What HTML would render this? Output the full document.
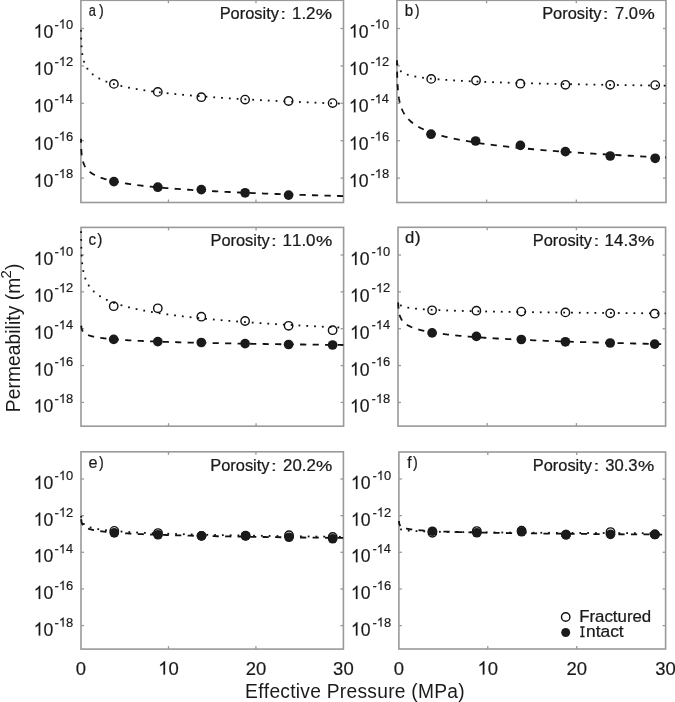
<!DOCTYPE html>
<html><head><meta charset="utf-8"><style>
html,body{margin:0;padding:0;background:#fff;width:675px;height:702px;overflow:hidden}
body{position:relative}
</style></head><body>
<svg width="675" height="702" viewBox="0 0 675 702" style="position:absolute;left:0;top:0;font-kerning:none;filter:grayscale(1) blur(0.35px)" font-family='"Liberation Sans", sans-serif' fill="#1a1a1a">
<rect x="80.9" y="0.3" width="262.6" height="202.2" fill="none" stroke="#999999" stroke-width="1.6"/>
<line x1="80.9" y1="28.50" x2="83.9" y2="28.50" stroke="#999999" stroke-width="1.3"/>
<line x1="343.5" y1="28.50" x2="340.5" y2="28.50" stroke="#999999" stroke-width="1.3"/>
<text transform="translate(33.59,37.50) scale(0.9524,1.041)" font-size="18.5" stroke="#1a1a1a" stroke-width="0.18" > 0</text><path transform="translate(33.59,37.50) scale(0.00860,-0.00903)" d="M763 0L583 0L583 1147C540 1106 483 1065 412 1023C341 981 278 950 222 930L222 1104C323 1151 411 1208 486 1276C561 1343 614 1408 646 1466L763 1466Z" stroke="#1a1a1a" stroke-width="0.18" vector-effect="non-scaling-stroke"/>
<text transform="translate(54.43,28.50) scale(1.0097,1.041)" font-size="12.8" stroke="#1a1a1a" stroke-width="0.18" >- 0</text><path transform="translate(58.73,28.50) scale(0.00631,-0.00625)" d="M763 0L583 0L583 1147C540 1106 483 1065 412 1023C341 981 278 950 222 930L222 1104C323 1151 411 1208 486 1276C561 1343 614 1408 646 1466L763 1466Z" stroke="#1a1a1a" stroke-width="0.18" vector-effect="non-scaling-stroke"/>
<line x1="80.9" y1="65.90" x2="83.9" y2="65.90" stroke="#999999" stroke-width="1.3"/>
<line x1="343.5" y1="65.90" x2="340.5" y2="65.90" stroke="#999999" stroke-width="1.3"/>
<text transform="translate(33.59,74.90) scale(0.9524,1.041)" font-size="18.5" stroke="#1a1a1a" stroke-width="0.18" > 0</text><path transform="translate(33.59,74.90) scale(0.00860,-0.00903)" d="M763 0L583 0L583 1147C540 1106 483 1065 412 1023C341 981 278 950 222 930L222 1104C323 1151 411 1208 486 1276C561 1343 614 1408 646 1466L763 1466Z" stroke="#1a1a1a" stroke-width="0.18" vector-effect="non-scaling-stroke"/>
<text transform="translate(54.42,65.90) scale(1.0181,1.041)" font-size="12.8" stroke="#1a1a1a" stroke-width="0.18" >- 2</text><path transform="translate(58.76,65.90) scale(0.00636,-0.00625)" d="M763 0L583 0L583 1147C540 1106 483 1065 412 1023C341 981 278 950 222 930L222 1104C323 1151 411 1208 486 1276C561 1343 614 1408 646 1466L763 1466Z" stroke="#1a1a1a" stroke-width="0.18" vector-effect="non-scaling-stroke"/>
<line x1="80.9" y1="103.30" x2="83.9" y2="103.30" stroke="#999999" stroke-width="1.3"/>
<line x1="343.5" y1="103.30" x2="340.5" y2="103.30" stroke="#999999" stroke-width="1.3"/>
<text transform="translate(33.59,112.30) scale(0.9524,1.041)" font-size="18.5" stroke="#1a1a1a" stroke-width="0.18" > 0</text><path transform="translate(33.59,112.30) scale(0.00860,-0.00903)" d="M763 0L583 0L583 1147C540 1106 483 1065 412 1023C341 981 278 950 222 930L222 1104C323 1151 411 1208 486 1276C561 1343 614 1408 646 1466L763 1466Z" stroke="#1a1a1a" stroke-width="0.18" vector-effect="non-scaling-stroke"/>
<text transform="translate(54.43,103.30) scale(1.0025,1.041)" font-size="12.8" stroke="#1a1a1a" stroke-width="0.18" >- 4</text><path transform="translate(58.70,103.30) scale(0.00627,-0.00625)" d="M763 0L583 0L583 1147C540 1106 483 1065 412 1023C341 981 278 950 222 930L222 1104C323 1151 411 1208 486 1276C561 1343 614 1408 646 1466L763 1466Z" stroke="#1a1a1a" stroke-width="0.18" vector-effect="non-scaling-stroke"/>
<line x1="80.9" y1="140.70" x2="83.9" y2="140.70" stroke="#999999" stroke-width="1.3"/>
<line x1="343.5" y1="140.70" x2="340.5" y2="140.70" stroke="#999999" stroke-width="1.3"/>
<text transform="translate(33.59,149.70) scale(0.9524,1.041)" font-size="18.5" stroke="#1a1a1a" stroke-width="0.18" > 0</text><path transform="translate(33.59,149.70) scale(0.00860,-0.00903)" d="M763 0L583 0L583 1147C540 1106 483 1065 412 1023C341 981 278 950 222 930L222 1104C323 1151 411 1208 486 1276C561 1343 614 1408 646 1466L763 1466Z" stroke="#1a1a1a" stroke-width="0.18" vector-effect="non-scaling-stroke"/>
<text transform="translate(54.42,140.70) scale(1.0133,1.041)" font-size="12.8" stroke="#1a1a1a" stroke-width="0.18" >- 6</text><path transform="translate(58.74,140.70) scale(0.00633,-0.00625)" d="M763 0L583 0L583 1147C540 1106 483 1065 412 1023C341 981 278 950 222 930L222 1104C323 1151 411 1208 486 1276C561 1343 614 1408 646 1466L763 1466Z" stroke="#1a1a1a" stroke-width="0.18" vector-effect="non-scaling-stroke"/>
<line x1="80.9" y1="178.10" x2="83.9" y2="178.10" stroke="#999999" stroke-width="1.3"/>
<line x1="343.5" y1="178.10" x2="340.5" y2="178.10" stroke="#999999" stroke-width="1.3"/>
<text transform="translate(33.59,187.10) scale(0.9524,1.041)" font-size="18.5" stroke="#1a1a1a" stroke-width="0.18" > 0</text><path transform="translate(33.59,187.10) scale(0.00860,-0.00903)" d="M763 0L583 0L583 1147C540 1106 483 1065 412 1023C341 981 278 950 222 930L222 1104C323 1151 411 1208 486 1276C561 1343 614 1408 646 1466L763 1466Z" stroke="#1a1a1a" stroke-width="0.18" vector-effect="non-scaling-stroke"/>
<text transform="translate(54.42,178.10) scale(1.0129,1.041)" font-size="12.8" stroke="#1a1a1a" stroke-width="0.18" >- 8</text><path transform="translate(58.74,178.10) scale(0.00633,-0.00625)" d="M763 0L583 0L583 1147C540 1106 483 1065 412 1023C341 981 278 950 222 930L222 1104C323 1151 411 1208 486 1276C561 1343 614 1408 646 1466L763 1466Z" stroke="#1a1a1a" stroke-width="0.18" vector-effect="non-scaling-stroke"/>
<line x1="168.43" y1="202.5" x2="168.43" y2="199.5" stroke="#999999" stroke-width="1.3"/>
<line x1="168.43" y1="0.3" x2="168.43" y2="3.3" stroke="#999999" stroke-width="1.3"/>
<line x1="255.97" y1="202.5" x2="255.97" y2="199.5" stroke="#999999" stroke-width="1.3"/>
<line x1="255.97" y1="0.3" x2="255.97" y2="3.3" stroke="#999999" stroke-width="1.3"/>
<clipPath id="clipa"><rect x="79.4" y="0.3" width="264.1" height="202.2"/></clipPath>
<g clip-path="url(#clipa)">
<rect x="80.12" y="29.85" width="1.8" height="1.8" fill="#111"/>
<rect x="80.27" y="37.65" width="1.8" height="1.8" fill="#111"/>
<rect x="80.61" y="45.44" width="1.8" height="1.8" fill="#111"/>
<rect x="81.39" y="53.20" width="1.8" height="1.8" fill="#111"/>
<rect x="83.10" y="60.80" width="1.8" height="1.8" fill="#111"/>
<rect x="86.48" y="67.80" width="1.8" height="1.8" fill="#111"/>
<rect x="91.80" y="73.47" width="1.8" height="1.8" fill="#111"/>
<rect x="98.37" y="77.65" width="1.8" height="1.8" fill="#111"/>
<rect x="105.51" y="80.77" width="1.8" height="1.8" fill="#111"/>
<rect x="112.93" y="83.18" width="1.8" height="1.8" fill="#111"/>
<rect x="120.48" y="85.14" width="1.8" height="1.8" fill="#111"/>
<rect x="128.10" y="86.77" width="1.8" height="1.8" fill="#111"/>
<rect x="135.78" y="88.17" width="1.8" height="1.8" fill="#111"/>
<rect x="143.48" y="89.39" width="1.8" height="1.8" fill="#111"/>
<rect x="151.20" y="90.48" width="1.8" height="1.8" fill="#111"/>
<rect x="158.94" y="91.46" width="1.8" height="1.8" fill="#111"/>
<rect x="166.69" y="92.34" width="1.8" height="1.8" fill="#111"/>
<rect x="174.45" y="93.16" width="1.8" height="1.8" fill="#111"/>
<rect x="182.21" y="93.90" width="1.8" height="1.8" fill="#111"/>
<rect x="189.98" y="94.60" width="1.8" height="1.8" fill="#111"/>
<rect x="197.76" y="95.24" width="1.8" height="1.8" fill="#111"/>
<rect x="205.53" y="95.85" width="1.8" height="1.8" fill="#111"/>
<rect x="213.31" y="96.42" width="1.8" height="1.8" fill="#111"/>
<rect x="221.09" y="96.95" width="1.8" height="1.8" fill="#111"/>
<rect x="228.88" y="97.46" width="1.8" height="1.8" fill="#111"/>
<rect x="236.66" y="97.94" width="1.8" height="1.8" fill="#111"/>
<rect x="244.45" y="98.40" width="1.8" height="1.8" fill="#111"/>
<rect x="252.24" y="98.84" width="1.8" height="1.8" fill="#111"/>
<rect x="260.02" y="99.26" width="1.8" height="1.8" fill="#111"/>
<rect x="267.81" y="99.66" width="1.8" height="1.8" fill="#111"/>
<rect x="275.61" y="100.05" width="1.8" height="1.8" fill="#111"/>
<rect x="283.40" y="100.42" width="1.8" height="1.8" fill="#111"/>
<rect x="291.19" y="100.77" width="1.8" height="1.8" fill="#111"/>
<rect x="298.98" y="101.11" width="1.8" height="1.8" fill="#111"/>
<rect x="306.77" y="101.45" width="1.8" height="1.8" fill="#111"/>
<rect x="314.57" y="101.77" width="1.8" height="1.8" fill="#111"/>
<rect x="322.36" y="102.07" width="1.8" height="1.8" fill="#111"/>
<rect x="330.16" y="102.37" width="1.8" height="1.8" fill="#111"/>
<rect x="337.95" y="102.66" width="1.8" height="1.8" fill="#111"/>
<path d="M80.99,138.80 L80.99,138.96 L80.99,139.11 L80.99,139.26 L81.00,139.41 L81.00,139.57 L81.00,139.72 L81.00,139.87 L81.00,140.03 L81.01,140.18 L81.01,140.33 L81.01,140.48 L81.01,140.64 L81.02,140.79 L81.02,140.94 L81.02,141.10 L81.02,141.25 L81.03,141.40 L81.03,141.56 L81.03,141.71 L81.03,141.86 L81.04,142.01 L81.04,142.17 L81.04,142.32 L81.05,142.47 L81.05,142.63 L81.05,142.78 L81.06,142.93 L81.06,143.08 L81.06,143.24 L81.07,143.39 L81.07,143.54 L81.07,143.70 L81.08,143.85 L81.08,144.00 L81.08,144.16 L81.09,144.31 L81.09,144.46 L81.10,144.61 L81.10,144.77 L81.11,144.92 L81.11,145.07 L81.11,145.23 L81.12,145.38 L81.12,145.53 L81.13,145.68 L81.13,145.84 L81.14,145.99 L81.14,146.14 L81.15,146.30 L81.15,146.45 L81.16,146.60 L81.17,146.75 L81.17,146.91 L81.18,147.06 L81.18,147.21 L81.19,147.37 L81.20,147.52 L81.20,147.67 L81.21,147.83 L81.22,147.98 L81.22,148.13 L81.23,148.28 L81.24,148.44 L81.24,148.59 L81.25,148.74 L81.26,148.90 L81.27,149.05 L81.27,149.20 L81.28,149.35 L81.29,149.51 L81.30,149.66 L81.31,149.81 L81.32,149.97 L81.33,150.12 L81.33,150.27 L81.34,150.43 L81.35,150.58 L81.36,150.73 L81.37,150.88 L81.38,151.04 L81.39,151.19 L81.40,151.34 L81.42,151.50 L81.43,151.65 L81.44,151.80 L81.45,151.95 L81.46,152.11 L81.47,152.26 L81.49,152.41 L81.50,152.57 L81.51,152.72 L81.52,152.87 L81.54,153.02 L81.55,153.18 L81.57,153.33 L81.58,153.48 L81.60,153.64 L81.61,153.79 L81.63,153.94 L81.64,154.10 L81.66,154.25 L81.67,154.40 L81.69,154.55 L81.71,154.71 L81.72,154.86 L81.74,155.01 L81.76,155.17 L81.78,155.32 L81.80,155.47 L81.82,155.62 L81.84,155.78 L81.86,155.93 L81.88,156.08 L81.90,156.24 L81.92,156.39 L81.94,156.54 L81.97,156.70 L81.99,156.85 L82.01,157.00 L82.04,157.15 L82.06,157.31 L82.09,157.46 L82.11,157.61 L82.14,157.77 L82.16,157.92 L82.19,158.07 L82.22,158.22 L82.25,158.38 L82.28,158.53 L82.31,158.68 L82.34,158.84 L82.37,158.99 L82.40,159.14 L82.43,159.29 L82.47,159.45 L82.50,159.60 L82.53,159.75 L82.57,159.91 L82.61,160.06 L82.64,160.21 L82.68,160.37 L82.72,160.52 L82.76,160.67 L82.80,160.82 L82.84,160.98 L82.88,161.13 L82.92,161.28 L82.97,161.44 L83.01,161.59 L83.06,161.74 L83.10,161.89 L83.15,162.05 L83.20,162.20 L83.25,162.35 L83.30,162.51 L83.35,162.66 L83.41,162.81 L83.46,162.96 L83.51,163.12 L83.57,163.27 L83.63,163.42 L83.69,163.58 L83.75,163.73 L83.81,163.88 L83.87,164.04 L83.94,164.19 L84.00,164.34 L84.07,164.49 L84.14,164.65 L84.21,164.80 L84.28,164.95 L84.35,165.11 L84.43,165.26 L84.50,165.41 L84.58,165.56 L84.66,165.72 L84.74,165.87 L84.82,166.02 L84.91,166.18 L85.00,166.33 L85.08,166.48 L85.17,166.64 L85.27,166.79 L85.36,166.94 L85.46,167.09 L85.56,167.25 L85.66,167.40 L85.76,167.55 L85.86,167.71 L85.97,167.86 L86.08,168.01 L86.19,168.16 L86.31,168.32 L86.42,168.47 L86.54,168.62 L86.66,168.78 L86.79,168.93 L86.92,169.08 L87.05,169.23 L87.18,169.39 L87.31,169.54 L87.45,169.69 L87.59,169.85 L87.74,170.00 L87.89,170.15 L88.04,170.31 L88.19,170.46 L88.35,170.61 L88.51,170.76 L88.67,170.92 L88.84,171.07 L89.01,171.22 L89.19,171.38 L89.37,171.53 L89.55,171.68 L89.74,171.83 L89.93,171.99 L90.12,172.14 L90.32,172.29 L90.53,172.45 L90.73,172.60 L90.95,172.75 L91.16,172.91 L91.38,173.06 L91.61,173.21 L91.84,173.36 L92.08,173.52 L92.32,173.67 L92.57,173.82 L92.82,173.98 L93.08,174.13 L93.34,174.28 L93.61,174.43 L93.88,174.59 L94.16,174.74 L94.45,174.89 L94.74,175.05 L95.04,175.20 L95.35,175.35 L95.66,175.50 L95.98,175.66 L96.30,175.81 L96.63,175.96 L96.97,176.12 L97.32,176.27 L97.68,176.42 L98.04,176.58 L98.41,176.73 L98.79,176.88 L99.17,177.03 L99.57,177.19 L99.97,177.34 L100.38,177.49 L100.80,177.65 L101.23,177.80 L101.67,177.95 L102.12,178.10 L102.58,178.26 L103.05,178.41 L103.52,178.56 L104.01,178.72 L104.51,178.87 L105.02,179.02 L105.54,179.18 L106.08,179.33 L106.62,179.48 L107.17,179.63 L107.74,179.79 L108.32,179.94 L108.91,180.09 L109.52,180.25 L110.14,180.40 L110.77,180.55 L111.41,180.70 L112.07,180.86 L112.75,181.01 L113.43,181.16 L114.14,181.32 L114.85,181.47 L115.59,181.62 L116.34,181.77 L117.10,181.93 L117.88,182.08 L118.68,182.23 L119.50,182.39 L120.33,182.54 L121.18,182.69 L122.05,182.85 L122.94,183.00 L123.85,183.15 L124.78,183.30 L125.72,183.46 L126.69,183.61 L127.68,183.76 L128.69,183.92 L129.72,184.07 L130.78,184.22 L131.85,184.37 L132.95,184.53 L134.08,184.68 L135.23,184.83 L136.40,184.99 L137.60,185.14 L138.82,185.29 L140.07,185.45 L141.35,185.60 L142.66,185.75 L143.99,185.90 L145.35,186.06 L146.74,186.21 L148.17,186.36 L149.62,186.52 L151.10,186.67 L152.62,186.82 L154.17,186.97 L155.75,187.13 L157.36,187.28 L159.02,187.43 L160.70,187.59 L162.43,187.74 L164.19,187.89 L165.99,188.04 L167.82,188.20 L169.70,188.35 L171.62,188.50 L173.58,188.66 L175.58,188.81 L177.62,188.96 L179.71,189.12 L181.84,189.27 L184.02,189.42 L186.25,189.57 L188.53,189.73 L190.85,189.88 L193.22,190.03 L195.65,190.19 L198.13,190.34 L200.66,190.49 L203.25,190.64 L205.89,190.80 L208.59,190.95 L211.34,191.10 L214.16,191.26 L217.04,191.41 L219.98,191.56 L222.98,191.72 L226.05,191.87 L229.18,192.02 L232.39,192.17 L235.66,192.33 L239.00,192.48 L242.41,192.63 L245.90,192.79 L249.46,192.94 L253.10,193.09 L256.82,193.24 L260.62,193.40 L264.50,193.55 L268.47,193.70 L272.52,193.86 L276.66,194.01 L280.88,194.16 L285.20,194.31 L289.61,194.47 L294.12,194.62 L298.73,194.77 L303.43,194.93 L308.23,195.08 L313.14,195.23 L318.16,195.39 L323.28,195.54 L328.52,195.69 L333.86,195.84 L339.33,196.00 L343.50,196.11" fill="none" stroke="#111" stroke-width="1.8" stroke-dasharray="6.2 6.3" stroke-dashoffset="2.2"/>
</g>
<circle cx="113.9" cy="83.9" r="4.2" fill="none" stroke="#111" stroke-width="1.4"/>
<circle cx="157.8" cy="91.9" r="4.2" fill="none" stroke="#111" stroke-width="1.4"/>
<circle cx="201.3" cy="97.2" r="4.2" fill="none" stroke="#111" stroke-width="1.4"/>
<circle cx="245.1" cy="99.6" r="4.2" fill="none" stroke="#111" stroke-width="1.4"/>
<circle cx="288.6" cy="101.0" r="4.2" fill="none" stroke="#111" stroke-width="1.4"/>
<circle cx="332.6" cy="103.1" r="4.2" fill="none" stroke="#111" stroke-width="1.4"/>
<circle cx="113.9" cy="181.6" r="4.85" fill="#1a1a1a"/>
<circle cx="157.8" cy="187.2" r="4.85" fill="#1a1a1a"/>
<circle cx="201.3" cy="189.6" r="4.85" fill="#1a1a1a"/>
<circle cx="245.1" cy="192.8" r="4.85" fill="#1a1a1a"/>
<circle cx="288.6" cy="195.1" r="4.85" fill="#1a1a1a"/>
<text transform="translate(219.65,18.80) scale(1.0940,1.04)" font-size="15" stroke="#1a1a1a" stroke-width="0.22">Porosity</text>
<text transform="translate(280.28,18.80) scale(1.4003,1.0)" font-size="15" stroke="#1a1a1a" stroke-width="0.22">:</text>
<text transform="translate(292.01,18.80) scale(1.1290,1.06)" font-size="15" stroke="#1a1a1a" stroke-width="0.22">1.2</text>
<text transform="translate(315.85,18.80) scale(1.2227,1.03)" font-size="15" stroke="#1a1a1a" stroke-width="0.22">%</text>
<text transform="translate(88.65,15.80) scale(0.8132,1.0)" font-size="15.8" stroke="#1a1a1a" stroke-width="0.22">a</text>
<text transform="translate(98.92,15.80) scale(0.9071,1.0)" font-size="15.8" stroke="#1a1a1a" stroke-width="0.22">)</text>
<rect x="396.9" y="0.3" width="269.1" height="202.2" fill="none" stroke="#999999" stroke-width="1.6"/>
<line x1="396.9" y1="28.50" x2="399.9" y2="28.50" stroke="#999999" stroke-width="1.3"/>
<line x1="666.0" y1="28.50" x2="663.0" y2="28.50" stroke="#999999" stroke-width="1.3"/>
<text transform="translate(348.89,37.50) scale(0.9524,1.041)" font-size="18.5" stroke="#1a1a1a" stroke-width="0.18" > 0</text><path transform="translate(348.89,37.50) scale(0.00860,-0.00903)" d="M763 0L583 0L583 1147C540 1106 483 1065 412 1023C341 981 278 950 222 930L222 1104C323 1151 411 1208 486 1276C561 1343 614 1408 646 1466L763 1466Z" stroke="#1a1a1a" stroke-width="0.18" vector-effect="non-scaling-stroke"/>
<text transform="translate(370.43,28.50) scale(1.0097,1.041)" font-size="12.8" stroke="#1a1a1a" stroke-width="0.18" >- 0</text><path transform="translate(374.73,28.50) scale(0.00631,-0.00625)" d="M763 0L583 0L583 1147C540 1106 483 1065 412 1023C341 981 278 950 222 930L222 1104C323 1151 411 1208 486 1276C561 1343 614 1408 646 1466L763 1466Z" stroke="#1a1a1a" stroke-width="0.18" vector-effect="non-scaling-stroke"/>
<line x1="396.9" y1="65.90" x2="399.9" y2="65.90" stroke="#999999" stroke-width="1.3"/>
<line x1="666.0" y1="65.90" x2="663.0" y2="65.90" stroke="#999999" stroke-width="1.3"/>
<text transform="translate(348.89,74.90) scale(0.9524,1.041)" font-size="18.5" stroke="#1a1a1a" stroke-width="0.18" > 0</text><path transform="translate(348.89,74.90) scale(0.00860,-0.00903)" d="M763 0L583 0L583 1147C540 1106 483 1065 412 1023C341 981 278 950 222 930L222 1104C323 1151 411 1208 486 1276C561 1343 614 1408 646 1466L763 1466Z" stroke="#1a1a1a" stroke-width="0.18" vector-effect="non-scaling-stroke"/>
<text transform="translate(370.42,65.90) scale(1.0181,1.041)" font-size="12.8" stroke="#1a1a1a" stroke-width="0.18" >- 2</text><path transform="translate(374.76,65.90) scale(0.00636,-0.00625)" d="M763 0L583 0L583 1147C540 1106 483 1065 412 1023C341 981 278 950 222 930L222 1104C323 1151 411 1208 486 1276C561 1343 614 1408 646 1466L763 1466Z" stroke="#1a1a1a" stroke-width="0.18" vector-effect="non-scaling-stroke"/>
<line x1="396.9" y1="103.30" x2="399.9" y2="103.30" stroke="#999999" stroke-width="1.3"/>
<line x1="666.0" y1="103.30" x2="663.0" y2="103.30" stroke="#999999" stroke-width="1.3"/>
<text transform="translate(348.89,112.30) scale(0.9524,1.041)" font-size="18.5" stroke="#1a1a1a" stroke-width="0.18" > 0</text><path transform="translate(348.89,112.30) scale(0.00860,-0.00903)" d="M763 0L583 0L583 1147C540 1106 483 1065 412 1023C341 981 278 950 222 930L222 1104C323 1151 411 1208 486 1276C561 1343 614 1408 646 1466L763 1466Z" stroke="#1a1a1a" stroke-width="0.18" vector-effect="non-scaling-stroke"/>
<text transform="translate(370.43,103.30) scale(1.0025,1.041)" font-size="12.8" stroke="#1a1a1a" stroke-width="0.18" >- 4</text><path transform="translate(374.70,103.30) scale(0.00627,-0.00625)" d="M763 0L583 0L583 1147C540 1106 483 1065 412 1023C341 981 278 950 222 930L222 1104C323 1151 411 1208 486 1276C561 1343 614 1408 646 1466L763 1466Z" stroke="#1a1a1a" stroke-width="0.18" vector-effect="non-scaling-stroke"/>
<line x1="396.9" y1="140.70" x2="399.9" y2="140.70" stroke="#999999" stroke-width="1.3"/>
<line x1="666.0" y1="140.70" x2="663.0" y2="140.70" stroke="#999999" stroke-width="1.3"/>
<text transform="translate(348.89,149.70) scale(0.9524,1.041)" font-size="18.5" stroke="#1a1a1a" stroke-width="0.18" > 0</text><path transform="translate(348.89,149.70) scale(0.00860,-0.00903)" d="M763 0L583 0L583 1147C540 1106 483 1065 412 1023C341 981 278 950 222 930L222 1104C323 1151 411 1208 486 1276C561 1343 614 1408 646 1466L763 1466Z" stroke="#1a1a1a" stroke-width="0.18" vector-effect="non-scaling-stroke"/>
<text transform="translate(370.42,140.70) scale(1.0133,1.041)" font-size="12.8" stroke="#1a1a1a" stroke-width="0.18" >- 6</text><path transform="translate(374.74,140.70) scale(0.00633,-0.00625)" d="M763 0L583 0L583 1147C540 1106 483 1065 412 1023C341 981 278 950 222 930L222 1104C323 1151 411 1208 486 1276C561 1343 614 1408 646 1466L763 1466Z" stroke="#1a1a1a" stroke-width="0.18" vector-effect="non-scaling-stroke"/>
<line x1="396.9" y1="178.10" x2="399.9" y2="178.10" stroke="#999999" stroke-width="1.3"/>
<line x1="666.0" y1="178.10" x2="663.0" y2="178.10" stroke="#999999" stroke-width="1.3"/>
<text transform="translate(348.89,187.10) scale(0.9524,1.041)" font-size="18.5" stroke="#1a1a1a" stroke-width="0.18" > 0</text><path transform="translate(348.89,187.10) scale(0.00860,-0.00903)" d="M763 0L583 0L583 1147C540 1106 483 1065 412 1023C341 981 278 950 222 930L222 1104C323 1151 411 1208 486 1276C561 1343 614 1408 646 1466L763 1466Z" stroke="#1a1a1a" stroke-width="0.18" vector-effect="non-scaling-stroke"/>
<text transform="translate(370.42,178.10) scale(1.0129,1.041)" font-size="12.8" stroke="#1a1a1a" stroke-width="0.18" >- 8</text><path transform="translate(374.74,178.10) scale(0.00633,-0.00625)" d="M763 0L583 0L583 1147C540 1106 483 1065 412 1023C341 981 278 950 222 930L222 1104C323 1151 411 1208 486 1276C561 1343 614 1408 646 1466L763 1466Z" stroke="#1a1a1a" stroke-width="0.18" vector-effect="non-scaling-stroke"/>
<line x1="486.60" y1="202.5" x2="486.60" y2="199.5" stroke="#999999" stroke-width="1.3"/>
<line x1="486.60" y1="0.3" x2="486.60" y2="3.3" stroke="#999999" stroke-width="1.3"/>
<line x1="576.30" y1="202.5" x2="576.30" y2="199.5" stroke="#999999" stroke-width="1.3"/>
<line x1="576.30" y1="0.3" x2="576.30" y2="3.3" stroke="#999999" stroke-width="1.3"/>
<clipPath id="clipb"><rect x="395.4" y="0.3" width="270.6" height="202.2"/></clipPath>
<g clip-path="url(#clipb)">
<rect x="396.53" y="63.56" width="1.8" height="1.8" fill="#111"/>
<rect x="399.92" y="70.39" width="1.8" height="1.8" fill="#111"/>
<rect x="406.84" y="73.86" width="1.8" height="1.8" fill="#111"/>
<rect x="414.43" y="75.66" width="1.8" height="1.8" fill="#111"/>
<rect x="422.13" y="76.85" width="1.8" height="1.8" fill="#111"/>
<rect x="429.88" y="77.74" width="1.8" height="1.8" fill="#111"/>
<rect x="437.65" y="78.44" width="1.8" height="1.8" fill="#111"/>
<rect x="445.43" y="79.02" width="1.8" height="1.8" fill="#111"/>
<rect x="453.21" y="79.52" width="1.8" height="1.8" fill="#111"/>
<rect x="461.00" y="79.96" width="1.8" height="1.8" fill="#111"/>
<rect x="468.79" y="80.34" width="1.8" height="1.8" fill="#111"/>
<rect x="476.58" y="80.69" width="1.8" height="1.8" fill="#111"/>
<rect x="484.38" y="81.00" width="1.8" height="1.8" fill="#111"/>
<rect x="492.17" y="81.29" width="1.8" height="1.8" fill="#111"/>
<rect x="499.97" y="81.56" width="1.8" height="1.8" fill="#111"/>
<rect x="507.76" y="81.80" width="1.8" height="1.8" fill="#111"/>
<rect x="515.56" y="82.03" width="1.8" height="1.8" fill="#111"/>
<rect x="523.36" y="82.25" width="1.8" height="1.8" fill="#111"/>
<rect x="531.16" y="82.45" width="1.8" height="1.8" fill="#111"/>
<rect x="538.95" y="82.64" width="1.8" height="1.8" fill="#111"/>
<rect x="546.75" y="82.82" width="1.8" height="1.8" fill="#111"/>
<rect x="554.55" y="82.99" width="1.8" height="1.8" fill="#111"/>
<rect x="562.35" y="83.16" width="1.8" height="1.8" fill="#111"/>
<rect x="570.15" y="83.31" width="1.8" height="1.8" fill="#111"/>
<rect x="577.94" y="83.46" width="1.8" height="1.8" fill="#111"/>
<rect x="585.74" y="83.60" width="1.8" height="1.8" fill="#111"/>
<rect x="593.54" y="83.74" width="1.8" height="1.8" fill="#111"/>
<rect x="601.34" y="83.87" width="1.8" height="1.8" fill="#111"/>
<rect x="609.14" y="84.00" width="1.8" height="1.8" fill="#111"/>
<rect x="616.94" y="84.12" width="1.8" height="1.8" fill="#111"/>
<rect x="624.74" y="84.24" width="1.8" height="1.8" fill="#111"/>
<rect x="632.54" y="84.35" width="1.8" height="1.8" fill="#111"/>
<rect x="640.34" y="84.46" width="1.8" height="1.8" fill="#111"/>
<rect x="648.14" y="84.57" width="1.8" height="1.8" fill="#111"/>
<rect x="655.93" y="84.68" width="1.8" height="1.8" fill="#111"/>
<rect x="663.73" y="84.78" width="1.8" height="1.8" fill="#111"/>
<path d="M396.99,60.22 L396.99,60.47 L396.99,60.73 L397.00,60.99 L397.00,61.25 L397.00,61.51 L397.00,61.77 L397.00,62.03 L397.01,62.29 L397.01,62.55 L397.01,62.81 L397.01,63.07 L397.02,63.33 L397.02,63.59 L397.02,63.85 L397.02,64.11 L397.03,64.37 L397.03,64.63 L397.03,64.89 L397.03,65.15 L397.04,65.41 L397.04,65.67 L397.04,65.93 L397.05,66.19 L397.05,66.45 L397.05,66.71 L397.06,66.96 L397.06,67.22 L397.06,67.48 L397.07,67.74 L397.07,68.00 L397.07,68.26 L397.08,68.52 L397.08,68.78 L397.09,69.04 L397.09,69.30 L397.09,69.56 L397.10,69.82 L397.10,70.08 L397.11,70.34 L397.11,70.60 L397.12,70.86 L397.12,71.12 L397.12,71.38 L397.13,71.64 L397.13,71.90 L397.14,72.16 L397.14,72.42 L397.15,72.68 L397.16,72.94 L397.16,73.20 L397.17,73.46 L397.17,73.71 L397.18,73.97 L397.18,74.23 L397.19,74.49 L397.20,74.75 L397.20,75.01 L397.21,75.27 L397.22,75.53 L397.22,75.79 L397.23,76.05 L397.24,76.31 L397.24,76.57 L397.25,76.83 L397.26,77.09 L397.27,77.35 L397.28,77.61 L397.28,77.87 L397.29,78.13 L397.30,78.39 L397.31,78.65 L397.32,78.91 L397.33,79.17 L397.34,79.43 L397.35,79.69 L397.35,79.95 L397.36,80.20 L397.37,80.46 L397.39,80.72 L397.40,80.98 L397.41,81.24 L397.42,81.50 L397.43,81.76 L397.44,82.02 L397.45,82.28 L397.46,82.54 L397.48,82.80 L397.49,83.06 L397.50,83.32 L397.51,83.58 L397.53,83.84 L397.54,84.10 L397.55,84.36 L397.57,84.62 L397.58,84.88 L397.60,85.14 L397.61,85.40 L397.63,85.66 L397.64,85.92 L397.66,86.18 L397.68,86.44 L397.69,86.69 L397.71,86.95 L397.73,87.21 L397.75,87.47 L397.76,87.73 L397.78,87.99 L397.80,88.25 L397.82,88.51 L397.84,88.77 L397.86,89.03 L397.88,89.29 L397.90,89.55 L397.92,89.81 L397.95,90.07 L397.97,90.33 L397.99,90.59 L398.02,90.85 L398.04,91.11 L398.06,91.37 L398.09,91.63 L398.12,91.89 L398.14,92.15 L398.17,92.41 L398.20,92.67 L398.22,92.93 L398.25,93.19 L398.28,93.44 L398.31,93.70 L398.34,93.96 L398.37,94.22 L398.41,94.48 L398.44,94.74 L398.47,95.00 L398.50,95.26 L398.54,95.52 L398.57,95.78 L398.61,96.04 L398.65,96.30 L398.69,96.56 L398.72,96.82 L398.76,97.08 L398.80,97.34 L398.84,97.60 L398.89,97.86 L398.93,98.12 L398.97,98.38 L399.02,98.64 L399.06,98.90 L399.11,99.16 L399.16,99.42 L399.21,99.68 L399.26,99.93 L399.31,100.19 L399.36,100.45 L399.41,100.71 L399.47,100.97 L399.52,101.23 L399.58,101.49 L399.64,101.75 L399.70,102.01 L399.76,102.27 L399.82,102.53 L399.88,102.79 L399.95,103.05 L400.01,103.31 L400.08,103.57 L400.15,103.83 L400.22,104.09 L400.29,104.35 L400.36,104.61 L400.44,104.87 L400.51,105.13 L400.59,105.39 L400.67,105.65 L400.75,105.91 L400.84,106.17 L400.92,106.43 L401.01,106.68 L401.10,106.94 L401.19,107.20 L401.28,107.46 L401.37,107.72 L401.47,107.98 L401.57,108.24 L401.67,108.50 L401.77,108.76 L401.88,109.02 L401.99,109.28 L402.10,109.54 L402.21,109.80 L402.32,110.06 L402.44,110.32 L402.56,110.58 L402.68,110.84 L402.81,111.10 L402.93,111.36 L403.07,111.62 L403.20,111.88 L403.33,112.14 L403.47,112.40 L403.62,112.66 L403.76,112.92 L403.91,113.17 L404.06,113.43 L404.21,113.69 L404.37,113.95 L404.53,114.21 L404.70,114.47 L404.87,114.73 L405.04,114.99 L405.21,115.25 L405.39,115.51 L405.58,115.77 L405.76,116.03 L405.96,116.29 L406.15,116.55 L406.35,116.81 L406.56,117.07 L406.76,117.33 L406.98,117.59 L407.19,117.85 L407.42,118.11 L407.64,118.37 L407.88,118.63 L408.11,118.89 L408.36,119.15 L408.60,119.41 L408.86,119.66 L409.11,119.92 L409.38,120.18 L409.65,120.44 L409.92,120.70 L410.20,120.96 L410.49,121.22 L410.78,121.48 L411.08,121.74 L411.39,122.00 L411.70,122.26 L412.02,122.52 L412.35,122.78 L412.68,123.04 L413.02,123.30 L413.37,123.56 L413.73,123.82 L414.09,124.08 L414.46,124.34 L414.84,124.60 L415.23,124.86 L415.62,125.12 L416.03,125.38 L416.44,125.64 L416.86,125.90 L417.30,126.16 L417.74,126.41 L418.19,126.67 L418.65,126.93 L419.12,127.19 L419.59,127.45 L420.08,127.71 L420.59,127.97 L421.10,128.23 L421.62,128.49 L422.15,128.75 L422.70,129.01 L423.26,129.27 L423.82,129.53 L424.41,129.79 L425.00,130.05 L425.61,130.31 L426.23,130.57 L426.86,130.83 L427.51,131.09 L428.17,131.35 L428.84,131.61 L429.53,131.87 L430.24,132.13 L430.96,132.39 L431.69,132.65 L432.44,132.90 L433.21,133.16 L434.00,133.42 L434.80,133.68 L435.62,133.94 L436.45,134.20 L437.31,134.46 L438.18,134.72 L439.07,134.98 L439.98,135.24 L440.91,135.50 L441.86,135.76 L442.83,136.02 L443.82,136.28 L444.84,136.54 L445.87,136.80 L446.93,137.06 L448.01,137.32 L449.11,137.58 L450.24,137.84 L451.39,138.10 L452.57,138.36 L453.77,138.62 L455.00,138.88 L456.26,139.14 L457.54,139.39 L458.85,139.65 L460.18,139.91 L461.55,140.17 L462.95,140.43 L464.37,140.69 L465.83,140.95 L467.32,141.21 L468.84,141.47 L470.39,141.73 L471.98,141.99 L473.60,142.25 L475.26,142.51 L476.95,142.77 L478.68,143.03 L480.44,143.29 L482.25,143.55 L484.09,143.81 L485.97,144.07 L487.90,144.33 L489.86,144.59 L491.87,144.85 L493.92,145.11 L496.02,145.37 L498.16,145.63 L500.34,145.89 L502.58,146.14 L504.86,146.40 L507.19,146.66 L509.57,146.92 L512.00,147.18 L514.49,147.44 L517.03,147.70 L519.62,147.96 L522.27,148.22 L524.98,148.48 L527.75,148.74 L530.57,149.00 L533.46,149.26 L536.41,149.52 L539.42,149.78 L542.50,150.04 L545.64,150.30 L548.85,150.56 L552.14,150.82 L555.49,151.08 L558.91,151.34 L562.41,151.60 L565.99,151.86 L569.64,152.12 L573.37,152.38 L577.18,152.63 L581.07,152.89 L585.05,153.15 L589.11,153.41 L593.26,153.67 L597.50,153.93 L601.83,154.19 L606.26,154.45 L610.78,154.71 L615.40,154.97 L620.12,155.23 L624.94,155.49 L629.86,155.75 L634.89,156.01 L640.03,156.27 L645.28,156.53 L650.65,156.79 L656.12,157.05 L661.72,157.31 L666.00,157.50" fill="none" stroke="#111" stroke-width="1.8" stroke-dasharray="6.2 6.3" stroke-dashoffset="1.1"/>
</g>
<circle cx="431.2" cy="78.9" r="4.2" fill="none" stroke="#111" stroke-width="1.4"/>
<circle cx="476.0" cy="80.5" r="4.2" fill="none" stroke="#111" stroke-width="1.4"/>
<circle cx="520.4" cy="83.7" r="4.2" fill="none" stroke="#111" stroke-width="1.4"/>
<circle cx="565.4" cy="84.8" r="4.2" fill="none" stroke="#111" stroke-width="1.4"/>
<circle cx="610.2" cy="84.8" r="4.2" fill="none" stroke="#111" stroke-width="1.4"/>
<circle cx="655.2" cy="85.1" r="4.2" fill="none" stroke="#111" stroke-width="1.4"/>
<circle cx="431.0" cy="134.2" r="4.85" fill="#1a1a1a"/>
<circle cx="475.6" cy="141.0" r="4.85" fill="#1a1a1a"/>
<circle cx="520.4" cy="145.4" r="4.85" fill="#1a1a1a"/>
<circle cx="565.4" cy="151.6" r="4.85" fill="#1a1a1a"/>
<circle cx="610.2" cy="156.0" r="4.85" fill="#1a1a1a"/>
<circle cx="655.2" cy="158.3" r="4.85" fill="#1a1a1a"/>
<text transform="translate(542.15,18.80) scale(1.0940,1.04)" font-size="15" stroke="#1a1a1a" stroke-width="0.22">Porosity</text>
<text transform="translate(602.78,18.80) scale(1.4003,1.0)" font-size="15" stroke="#1a1a1a" stroke-width="0.22">:</text>
<text transform="translate(615.06,18.80) scale(1.0976,1.06)" font-size="15" stroke="#1a1a1a" stroke-width="0.22">7.0</text>
<text transform="translate(638.45,18.80) scale(1.2227,1.03)" font-size="15" stroke="#1a1a1a" stroke-width="0.22">%</text>
<text transform="translate(404.63,16.00) scale(0.9570,1.0)" font-size="15.8" stroke="#1a1a1a" stroke-width="0.22">b</text>
<text transform="translate(414.92,16.00) scale(0.8594,1.0)" font-size="15.8" stroke="#1a1a1a" stroke-width="0.22">)</text>
<rect x="81.0" y="227.4" width="262.6" height="198.79999999999998" fill="none" stroke="#999999" stroke-width="1.6"/>
<line x1="81.0" y1="255.00" x2="84.0" y2="255.00" stroke="#999999" stroke-width="1.3"/>
<line x1="343.6" y1="255.00" x2="340.6" y2="255.00" stroke="#999999" stroke-width="1.3"/>
<text transform="translate(33.69,265.00) scale(0.9524,1.041)" font-size="18.5" stroke="#1a1a1a" stroke-width="0.18" > 0</text><path transform="translate(33.69,265.00) scale(0.00860,-0.00903)" d="M763 0L583 0L583 1147C540 1106 483 1065 412 1023C341 981 278 950 222 930L222 1104C323 1151 411 1208 486 1276C561 1343 614 1408 646 1466L763 1466Z" stroke="#1a1a1a" stroke-width="0.18" vector-effect="non-scaling-stroke"/>
<text transform="translate(54.53,255.60) scale(1.0097,1.041)" font-size="12.8" stroke="#1a1a1a" stroke-width="0.18" >- 0</text><path transform="translate(58.83,255.60) scale(0.00631,-0.00625)" d="M763 0L583 0L583 1147C540 1106 483 1065 412 1023C341 981 278 950 222 930L222 1104C323 1151 411 1208 486 1276C561 1343 614 1408 646 1466L763 1466Z" stroke="#1a1a1a" stroke-width="0.18" vector-effect="non-scaling-stroke"/>
<line x1="81.0" y1="291.85" x2="84.0" y2="291.85" stroke="#999999" stroke-width="1.3"/>
<line x1="343.6" y1="291.85" x2="340.6" y2="291.85" stroke="#999999" stroke-width="1.3"/>
<text transform="translate(33.69,301.85) scale(0.9524,1.041)" font-size="18.5" stroke="#1a1a1a" stroke-width="0.18" > 0</text><path transform="translate(33.69,301.85) scale(0.00860,-0.00903)" d="M763 0L583 0L583 1147C540 1106 483 1065 412 1023C341 981 278 950 222 930L222 1104C323 1151 411 1208 486 1276C561 1343 614 1408 646 1466L763 1466Z" stroke="#1a1a1a" stroke-width="0.18" vector-effect="non-scaling-stroke"/>
<text transform="translate(54.52,292.45) scale(1.0181,1.041)" font-size="12.8" stroke="#1a1a1a" stroke-width="0.18" >- 2</text><path transform="translate(58.86,292.45) scale(0.00636,-0.00625)" d="M763 0L583 0L583 1147C540 1106 483 1065 412 1023C341 981 278 950 222 930L222 1104C323 1151 411 1208 486 1276C561 1343 614 1408 646 1466L763 1466Z" stroke="#1a1a1a" stroke-width="0.18" vector-effect="non-scaling-stroke"/>
<line x1="81.0" y1="328.70" x2="84.0" y2="328.70" stroke="#999999" stroke-width="1.3"/>
<line x1="343.6" y1="328.70" x2="340.6" y2="328.70" stroke="#999999" stroke-width="1.3"/>
<text transform="translate(33.69,338.70) scale(0.9524,1.041)" font-size="18.5" stroke="#1a1a1a" stroke-width="0.18" > 0</text><path transform="translate(33.69,338.70) scale(0.00860,-0.00903)" d="M763 0L583 0L583 1147C540 1106 483 1065 412 1023C341 981 278 950 222 930L222 1104C323 1151 411 1208 486 1276C561 1343 614 1408 646 1466L763 1466Z" stroke="#1a1a1a" stroke-width="0.18" vector-effect="non-scaling-stroke"/>
<text transform="translate(54.53,329.30) scale(1.0025,1.041)" font-size="12.8" stroke="#1a1a1a" stroke-width="0.18" >- 4</text><path transform="translate(58.80,329.30) scale(0.00627,-0.00625)" d="M763 0L583 0L583 1147C540 1106 483 1065 412 1023C341 981 278 950 222 930L222 1104C323 1151 411 1208 486 1276C561 1343 614 1408 646 1466L763 1466Z" stroke="#1a1a1a" stroke-width="0.18" vector-effect="non-scaling-stroke"/>
<line x1="81.0" y1="365.55" x2="84.0" y2="365.55" stroke="#999999" stroke-width="1.3"/>
<line x1="343.6" y1="365.55" x2="340.6" y2="365.55" stroke="#999999" stroke-width="1.3"/>
<text transform="translate(33.69,375.55) scale(0.9524,1.041)" font-size="18.5" stroke="#1a1a1a" stroke-width="0.18" > 0</text><path transform="translate(33.69,375.55) scale(0.00860,-0.00903)" d="M763 0L583 0L583 1147C540 1106 483 1065 412 1023C341 981 278 950 222 930L222 1104C323 1151 411 1208 486 1276C561 1343 614 1408 646 1466L763 1466Z" stroke="#1a1a1a" stroke-width="0.18" vector-effect="non-scaling-stroke"/>
<text transform="translate(54.52,366.15) scale(1.0133,1.041)" font-size="12.8" stroke="#1a1a1a" stroke-width="0.18" >- 6</text><path transform="translate(58.84,366.15) scale(0.00633,-0.00625)" d="M763 0L583 0L583 1147C540 1106 483 1065 412 1023C341 981 278 950 222 930L222 1104C323 1151 411 1208 486 1276C561 1343 614 1408 646 1466L763 1466Z" stroke="#1a1a1a" stroke-width="0.18" vector-effect="non-scaling-stroke"/>
<line x1="81.0" y1="402.40" x2="84.0" y2="402.40" stroke="#999999" stroke-width="1.3"/>
<line x1="343.6" y1="402.40" x2="340.6" y2="402.40" stroke="#999999" stroke-width="1.3"/>
<text transform="translate(33.69,412.40) scale(0.9524,1.041)" font-size="18.5" stroke="#1a1a1a" stroke-width="0.18" > 0</text><path transform="translate(33.69,412.40) scale(0.00860,-0.00903)" d="M763 0L583 0L583 1147C540 1106 483 1065 412 1023C341 981 278 950 222 930L222 1104C323 1151 411 1208 486 1276C561 1343 614 1408 646 1466L763 1466Z" stroke="#1a1a1a" stroke-width="0.18" vector-effect="non-scaling-stroke"/>
<text transform="translate(54.52,403.00) scale(1.0129,1.041)" font-size="12.8" stroke="#1a1a1a" stroke-width="0.18" >- 8</text><path transform="translate(58.84,403.00) scale(0.00633,-0.00625)" d="M763 0L583 0L583 1147C540 1106 483 1065 412 1023C341 981 278 950 222 930L222 1104C323 1151 411 1208 486 1276C561 1343 614 1408 646 1466L763 1466Z" stroke="#1a1a1a" stroke-width="0.18" vector-effect="non-scaling-stroke"/>
<line x1="168.53" y1="426.2" x2="168.53" y2="423.2" stroke="#999999" stroke-width="1.3"/>
<line x1="168.53" y1="227.4" x2="168.53" y2="230.4" stroke="#999999" stroke-width="1.3"/>
<line x1="256.07" y1="426.2" x2="256.07" y2="423.2" stroke="#999999" stroke-width="1.3"/>
<line x1="256.07" y1="227.4" x2="256.07" y2="230.4" stroke="#999999" stroke-width="1.3"/>
<clipPath id="clipc"><rect x="79.5" y="227.4" width="264.1" height="198.79999999999998"/></clipPath>
<g clip-path="url(#clipc)">
<rect x="80.19" y="231.22" width="1.8" height="1.8" fill="#111"/>
<rect x="80.27" y="239.02" width="1.8" height="1.8" fill="#111"/>
<rect x="80.43" y="246.82" width="1.8" height="1.8" fill="#111"/>
<rect x="80.73" y="254.62" width="1.8" height="1.8" fill="#111"/>
<rect x="81.31" y="262.39" width="1.8" height="1.8" fill="#111"/>
<rect x="82.41" y="270.11" width="1.8" height="1.8" fill="#111"/>
<rect x="84.43" y="277.64" width="1.8" height="1.8" fill="#111"/>
<rect x="87.86" y="284.63" width="1.8" height="1.8" fill="#111"/>
<rect x="92.86" y="290.58" width="1.8" height="1.8" fill="#111"/>
<rect x="99.05" y="295.32" width="1.8" height="1.8" fill="#111"/>
<rect x="105.91" y="299.02" width="1.8" height="1.8" fill="#111"/>
<rect x="113.13" y="301.97" width="1.8" height="1.8" fill="#111"/>
<rect x="120.54" y="304.39" width="1.8" height="1.8" fill="#111"/>
<rect x="128.07" y="306.44" width="1.8" height="1.8" fill="#111"/>
<rect x="135.66" y="308.20" width="1.8" height="1.8" fill="#111"/>
<rect x="143.31" y="309.74" width="1.8" height="1.8" fill="#111"/>
<rect x="150.99" y="311.11" width="1.8" height="1.8" fill="#111"/>
<rect x="158.69" y="312.35" width="1.8" height="1.8" fill="#111"/>
<rect x="166.41" y="313.47" width="1.8" height="1.8" fill="#111"/>
<rect x="174.14" y="314.50" width="1.8" height="1.8" fill="#111"/>
<rect x="181.88" y="315.45" width="1.8" height="1.8" fill="#111"/>
<rect x="189.63" y="316.32" width="1.8" height="1.8" fill="#111"/>
<rect x="197.39" y="317.14" width="1.8" height="1.8" fill="#111"/>
<rect x="205.15" y="317.91" width="1.8" height="1.8" fill="#111"/>
<rect x="212.92" y="318.63" width="1.8" height="1.8" fill="#111"/>
<rect x="220.69" y="319.31" width="1.8" height="1.8" fill="#111"/>
<rect x="228.46" y="319.96" width="1.8" height="1.8" fill="#111"/>
<rect x="236.24" y="320.57" width="1.8" height="1.8" fill="#111"/>
<rect x="244.02" y="321.15" width="1.8" height="1.8" fill="#111"/>
<rect x="251.80" y="321.71" width="1.8" height="1.8" fill="#111"/>
<rect x="259.58" y="322.24" width="1.8" height="1.8" fill="#111"/>
<rect x="267.36" y="322.75" width="1.8" height="1.8" fill="#111"/>
<rect x="275.15" y="323.23" width="1.8" height="1.8" fill="#111"/>
<rect x="282.93" y="323.70" width="1.8" height="1.8" fill="#111"/>
<rect x="290.72" y="324.15" width="1.8" height="1.8" fill="#111"/>
<rect x="298.51" y="324.59" width="1.8" height="1.8" fill="#111"/>
<rect x="306.30" y="325.01" width="1.8" height="1.8" fill="#111"/>
<rect x="314.09" y="325.41" width="1.8" height="1.8" fill="#111"/>
<rect x="321.88" y="325.81" width="1.8" height="1.8" fill="#111"/>
<rect x="329.67" y="326.19" width="1.8" height="1.8" fill="#111"/>
<rect x="337.46" y="326.55" width="1.8" height="1.8" fill="#111"/>
<path d="M81.09,323.04 L81.09,323.10 L81.09,323.16 L81.09,323.22 L81.10,323.27 L81.10,323.33 L81.10,323.39 L81.10,323.45 L81.10,323.51 L81.11,323.57 L81.11,323.63 L81.11,323.68 L81.11,323.74 L81.12,323.80 L81.12,323.86 L81.12,323.92 L81.12,323.98 L81.13,324.04 L81.13,324.09 L81.13,324.15 L81.13,324.21 L81.14,324.27 L81.14,324.33 L81.14,324.39 L81.15,324.44 L81.15,324.50 L81.15,324.56 L81.16,324.62 L81.16,324.68 L81.16,324.74 L81.17,324.80 L81.17,324.85 L81.17,324.91 L81.18,324.97 L81.18,325.03 L81.18,325.09 L81.19,325.15 L81.19,325.21 L81.20,325.26 L81.20,325.32 L81.21,325.38 L81.21,325.44 L81.21,325.50 L81.22,325.56 L81.22,325.62 L81.23,325.67 L81.23,325.73 L81.24,325.79 L81.24,325.85 L81.25,325.91 L81.25,325.97 L81.26,326.03 L81.27,326.08 L81.27,326.14 L81.28,326.20 L81.28,326.26 L81.29,326.32 L81.30,326.38 L81.30,326.44 L81.31,326.49 L81.32,326.55 L81.32,326.61 L81.33,326.67 L81.34,326.73 L81.34,326.79 L81.35,326.85 L81.36,326.90 L81.37,326.96 L81.37,327.02 L81.38,327.08 L81.39,327.14 L81.40,327.20 L81.41,327.25 L81.42,327.31 L81.43,327.37 L81.43,327.43 L81.44,327.49 L81.45,327.55 L81.46,327.61 L81.47,327.66 L81.48,327.72 L81.49,327.78 L81.50,327.84 L81.52,327.90 L81.53,327.96 L81.54,328.02 L81.55,328.07 L81.56,328.13 L81.57,328.19 L81.59,328.25 L81.60,328.31 L81.61,328.37 L81.62,328.43 L81.64,328.48 L81.65,328.54 L81.67,328.60 L81.68,328.66 L81.70,328.72 L81.71,328.78 L81.73,328.84 L81.74,328.89 L81.76,328.95 L81.77,329.01 L81.79,329.07 L81.81,329.13 L81.82,329.19 L81.84,329.25 L81.86,329.30 L81.88,329.36 L81.90,329.42 L81.92,329.48 L81.94,329.54 L81.96,329.60 L81.98,329.65 L82.00,329.71 L82.02,329.77 L82.04,329.83 L82.07,329.89 L82.09,329.95 L82.11,330.01 L82.14,330.06 L82.16,330.12 L82.19,330.18 L82.21,330.24 L82.24,330.30 L82.26,330.36 L82.29,330.42 L82.32,330.47 L82.35,330.53 L82.38,330.59 L82.41,330.65 L82.44,330.71 L82.47,330.77 L82.50,330.83 L82.53,330.88 L82.57,330.94 L82.60,331.00 L82.63,331.06 L82.67,331.12 L82.71,331.18 L82.74,331.24 L82.78,331.29 L82.82,331.35 L82.86,331.41 L82.90,331.47 L82.94,331.53 L82.98,331.59 L83.02,331.65 L83.07,331.70 L83.11,331.76 L83.16,331.82 L83.20,331.88 L83.25,331.94 L83.30,332.00 L83.35,332.05 L83.40,332.11 L83.45,332.17 L83.51,332.23 L83.56,332.29 L83.61,332.35 L83.67,332.41 L83.73,332.46 L83.79,332.52 L83.85,332.58 L83.91,332.64 L83.97,332.70 L84.04,332.76 L84.10,332.82 L84.17,332.87 L84.24,332.93 L84.31,332.99 L84.38,333.05 L84.45,333.11 L84.53,333.17 L84.60,333.23 L84.68,333.28 L84.76,333.34 L84.84,333.40 L84.92,333.46 L85.01,333.52 L85.10,333.58 L85.18,333.64 L85.27,333.69 L85.37,333.75 L85.46,333.81 L85.56,333.87 L85.66,333.93 L85.76,333.99 L85.86,334.05 L85.96,334.10 L86.07,334.16 L86.18,334.22 L86.29,334.28 L86.41,334.34 L86.52,334.40 L86.64,334.46 L86.76,334.51 L86.89,334.57 L87.02,334.63 L87.15,334.69 L87.28,334.75 L87.41,334.81 L87.55,334.86 L87.69,334.92 L87.84,334.98 L87.99,335.04 L88.14,335.10 L88.29,335.16 L88.45,335.22 L88.61,335.27 L88.77,335.33 L88.94,335.39 L89.11,335.45 L89.29,335.51 L89.47,335.57 L89.65,335.63 L89.84,335.68 L90.03,335.74 L90.22,335.80 L90.42,335.86 L90.63,335.92 L90.83,335.98 L91.05,336.04 L91.26,336.09 L91.48,336.15 L91.71,336.21 L91.94,336.27 L92.18,336.33 L92.42,336.39 L92.67,336.45 L92.92,336.50 L93.18,336.56 L93.44,336.62 L93.71,336.68 L93.98,336.74 L94.26,336.80 L94.55,336.86 L94.84,336.91 L95.14,336.97 L95.45,337.03 L95.76,337.09 L96.08,337.15 L96.40,337.21 L96.73,337.26 L97.07,337.32 L97.42,337.38 L97.78,337.44 L98.14,337.50 L98.51,337.56 L98.89,337.62 L99.27,337.67 L99.67,337.73 L100.07,337.79 L100.48,337.85 L100.90,337.91 L101.33,337.97 L101.77,338.03 L102.22,338.08 L102.68,338.14 L103.15,338.20 L103.62,338.26 L104.11,338.32 L104.61,338.38 L105.12,338.44 L105.64,338.49 L106.18,338.55 L106.72,338.61 L107.27,338.67 L107.84,338.73 L108.42,338.79 L109.01,338.85 L109.62,338.90 L110.24,338.96 L110.87,339.02 L111.51,339.08 L112.17,339.14 L112.85,339.20 L113.53,339.26 L114.24,339.31 L114.95,339.37 L115.69,339.43 L116.44,339.49 L117.20,339.55 L117.98,339.61 L118.78,339.67 L119.60,339.72 L120.43,339.78 L121.28,339.84 L122.15,339.90 L123.04,339.96 L123.95,340.02 L124.88,340.07 L125.82,340.13 L126.79,340.19 L127.78,340.25 L128.79,340.31 L129.82,340.37 L130.88,340.43 L131.95,340.48 L133.05,340.54 L134.18,340.60 L135.33,340.66 L136.50,340.72 L137.70,340.78 L138.92,340.84 L140.17,340.89 L141.45,340.95 L142.76,341.01 L144.09,341.07 L145.45,341.13 L146.84,341.19 L148.27,341.25 L149.72,341.30 L151.20,341.36 L152.72,341.42 L154.27,341.48 L155.85,341.54 L157.46,341.60 L159.12,341.66 L160.80,341.71 L162.53,341.77 L164.29,341.83 L166.09,341.89 L167.92,341.95 L169.80,342.01 L171.72,342.07 L173.68,342.12 L175.68,342.18 L177.72,342.24 L179.81,342.30 L181.94,342.36 L184.12,342.42 L186.35,342.47 L188.63,342.53 L190.95,342.59 L193.32,342.65 L195.75,342.71 L198.23,342.77 L200.76,342.83 L203.35,342.88 L205.99,342.94 L208.69,343.00 L211.44,343.06 L214.26,343.12 L217.14,343.18 L220.08,343.24 L223.08,343.29 L226.15,343.35 L229.28,343.41 L232.49,343.47 L235.76,343.53 L239.10,343.59 L242.51,343.65 L246.00,343.70 L249.56,343.76 L253.20,343.82 L256.92,343.88 L260.72,343.94 L264.60,344.00 L268.57,344.06 L272.62,344.11 L276.76,344.17 L280.98,344.23 L285.30,344.29 L289.71,344.35 L294.22,344.41 L298.83,344.47 L303.53,344.52 L308.33,344.58 L313.24,344.64 L318.26,344.70 L323.38,344.76 L328.62,344.82 L333.96,344.88 L339.43,344.93 L343.60,344.98" fill="none" stroke="#111" stroke-width="1.8" stroke-dasharray="6.2 6.3" stroke-dashoffset="-2.7"/>
</g>
<circle cx="113.7" cy="306.2" r="4.2" fill="none" stroke="#111" stroke-width="1.4"/>
<circle cx="157.8" cy="308.3" r="4.2" fill="none" stroke="#111" stroke-width="1.4"/>
<circle cx="201.3" cy="316.7" r="4.2" fill="none" stroke="#111" stroke-width="1.4"/>
<circle cx="245.1" cy="321.0" r="4.2" fill="none" stroke="#111" stroke-width="1.4"/>
<circle cx="288.6" cy="325.8" r="4.2" fill="none" stroke="#111" stroke-width="1.4"/>
<circle cx="332.6" cy="330.2" r="4.2" fill="none" stroke="#111" stroke-width="1.4"/>
<circle cx="113.7" cy="339.4" r="4.85" fill="#1a1a1a"/>
<circle cx="157.8" cy="341.6" r="4.85" fill="#1a1a1a"/>
<circle cx="201.3" cy="342.5" r="4.85" fill="#1a1a1a"/>
<circle cx="245.1" cy="343.6" r="4.85" fill="#1a1a1a"/>
<circle cx="288.6" cy="344.5" r="4.85" fill="#1a1a1a"/>
<circle cx="332.6" cy="345.0" r="4.85" fill="#1a1a1a"/>
<text transform="translate(210.45,245.90) scale(1.0940,1.04)" font-size="15" stroke="#1a1a1a" stroke-width="0.22">Porosity</text>
<text transform="translate(271.08,245.90) scale(1.4003,1.0)" font-size="15" stroke="#1a1a1a" stroke-width="0.22">:</text>
<text transform="translate(282.61,245.90) scale(1.1287,1.06)" font-size="15" stroke="#1a1a1a" stroke-width="0.22">11.0</text>
<text transform="translate(316.05,245.90) scale(1.2227,1.03)" font-size="15" stroke="#1a1a1a" stroke-width="0.22">%</text>
<text transform="translate(88.56,244.80) scale(0.9542,1.0)" font-size="15.8" stroke="#1a1a1a" stroke-width="0.22">c</text>
<text transform="translate(97.31,244.80) scale(0.9787,1.0)" font-size="15.8" stroke="#1a1a1a" stroke-width="0.22">)</text>
<rect x="398.0" y="227.3" width="267.6" height="198.8" fill="none" stroke="#999999" stroke-width="1.6"/>
<line x1="398.0" y1="255.00" x2="401.0" y2="255.00" stroke="#999999" stroke-width="1.3"/>
<line x1="665.6" y1="255.00" x2="662.6" y2="255.00" stroke="#999999" stroke-width="1.3"/>
<text transform="translate(349.99,265.00) scale(0.9524,1.041)" font-size="18.5" stroke="#1a1a1a" stroke-width="0.18" > 0</text><path transform="translate(349.99,265.00) scale(0.00860,-0.00903)" d="M763 0L583 0L583 1147C540 1106 483 1065 412 1023C341 981 278 950 222 930L222 1104C323 1151 411 1208 486 1276C561 1343 614 1408 646 1466L763 1466Z" stroke="#1a1a1a" stroke-width="0.18" vector-effect="non-scaling-stroke"/>
<text transform="translate(371.53,255.60) scale(1.0097,1.041)" font-size="12.8" stroke="#1a1a1a" stroke-width="0.18" >- 0</text><path transform="translate(375.83,255.60) scale(0.00631,-0.00625)" d="M763 0L583 0L583 1147C540 1106 483 1065 412 1023C341 981 278 950 222 930L222 1104C323 1151 411 1208 486 1276C561 1343 614 1408 646 1466L763 1466Z" stroke="#1a1a1a" stroke-width="0.18" vector-effect="non-scaling-stroke"/>
<line x1="398.0" y1="291.85" x2="401.0" y2="291.85" stroke="#999999" stroke-width="1.3"/>
<line x1="665.6" y1="291.85" x2="662.6" y2="291.85" stroke="#999999" stroke-width="1.3"/>
<text transform="translate(349.99,301.85) scale(0.9524,1.041)" font-size="18.5" stroke="#1a1a1a" stroke-width="0.18" > 0</text><path transform="translate(349.99,301.85) scale(0.00860,-0.00903)" d="M763 0L583 0L583 1147C540 1106 483 1065 412 1023C341 981 278 950 222 930L222 1104C323 1151 411 1208 486 1276C561 1343 614 1408 646 1466L763 1466Z" stroke="#1a1a1a" stroke-width="0.18" vector-effect="non-scaling-stroke"/>
<text transform="translate(371.52,292.45) scale(1.0181,1.041)" font-size="12.8" stroke="#1a1a1a" stroke-width="0.18" >- 2</text><path transform="translate(375.86,292.45) scale(0.00636,-0.00625)" d="M763 0L583 0L583 1147C540 1106 483 1065 412 1023C341 981 278 950 222 930L222 1104C323 1151 411 1208 486 1276C561 1343 614 1408 646 1466L763 1466Z" stroke="#1a1a1a" stroke-width="0.18" vector-effect="non-scaling-stroke"/>
<line x1="398.0" y1="328.70" x2="401.0" y2="328.70" stroke="#999999" stroke-width="1.3"/>
<line x1="665.6" y1="328.70" x2="662.6" y2="328.70" stroke="#999999" stroke-width="1.3"/>
<text transform="translate(349.99,338.70) scale(0.9524,1.041)" font-size="18.5" stroke="#1a1a1a" stroke-width="0.18" > 0</text><path transform="translate(349.99,338.70) scale(0.00860,-0.00903)" d="M763 0L583 0L583 1147C540 1106 483 1065 412 1023C341 981 278 950 222 930L222 1104C323 1151 411 1208 486 1276C561 1343 614 1408 646 1466L763 1466Z" stroke="#1a1a1a" stroke-width="0.18" vector-effect="non-scaling-stroke"/>
<text transform="translate(371.53,329.30) scale(1.0025,1.041)" font-size="12.8" stroke="#1a1a1a" stroke-width="0.18" >- 4</text><path transform="translate(375.80,329.30) scale(0.00627,-0.00625)" d="M763 0L583 0L583 1147C540 1106 483 1065 412 1023C341 981 278 950 222 930L222 1104C323 1151 411 1208 486 1276C561 1343 614 1408 646 1466L763 1466Z" stroke="#1a1a1a" stroke-width="0.18" vector-effect="non-scaling-stroke"/>
<line x1="398.0" y1="365.55" x2="401.0" y2="365.55" stroke="#999999" stroke-width="1.3"/>
<line x1="665.6" y1="365.55" x2="662.6" y2="365.55" stroke="#999999" stroke-width="1.3"/>
<text transform="translate(349.99,375.55) scale(0.9524,1.041)" font-size="18.5" stroke="#1a1a1a" stroke-width="0.18" > 0</text><path transform="translate(349.99,375.55) scale(0.00860,-0.00903)" d="M763 0L583 0L583 1147C540 1106 483 1065 412 1023C341 981 278 950 222 930L222 1104C323 1151 411 1208 486 1276C561 1343 614 1408 646 1466L763 1466Z" stroke="#1a1a1a" stroke-width="0.18" vector-effect="non-scaling-stroke"/>
<text transform="translate(371.52,366.15) scale(1.0133,1.041)" font-size="12.8" stroke="#1a1a1a" stroke-width="0.18" >- 6</text><path transform="translate(375.84,366.15) scale(0.00633,-0.00625)" d="M763 0L583 0L583 1147C540 1106 483 1065 412 1023C341 981 278 950 222 930L222 1104C323 1151 411 1208 486 1276C561 1343 614 1408 646 1466L763 1466Z" stroke="#1a1a1a" stroke-width="0.18" vector-effect="non-scaling-stroke"/>
<line x1="398.0" y1="402.40" x2="401.0" y2="402.40" stroke="#999999" stroke-width="1.3"/>
<line x1="665.6" y1="402.40" x2="662.6" y2="402.40" stroke="#999999" stroke-width="1.3"/>
<text transform="translate(349.99,412.40) scale(0.9524,1.041)" font-size="18.5" stroke="#1a1a1a" stroke-width="0.18" > 0</text><path transform="translate(349.99,412.40) scale(0.00860,-0.00903)" d="M763 0L583 0L583 1147C540 1106 483 1065 412 1023C341 981 278 950 222 930L222 1104C323 1151 411 1208 486 1276C561 1343 614 1408 646 1466L763 1466Z" stroke="#1a1a1a" stroke-width="0.18" vector-effect="non-scaling-stroke"/>
<text transform="translate(371.52,403.00) scale(1.0129,1.041)" font-size="12.8" stroke="#1a1a1a" stroke-width="0.18" >- 8</text><path transform="translate(375.84,403.00) scale(0.00633,-0.00625)" d="M763 0L583 0L583 1147C540 1106 483 1065 412 1023C341 981 278 950 222 930L222 1104C323 1151 411 1208 486 1276C561 1343 614 1408 646 1466L763 1466Z" stroke="#1a1a1a" stroke-width="0.18" vector-effect="non-scaling-stroke"/>
<line x1="487.20" y1="426.1" x2="487.20" y2="423.1" stroke="#999999" stroke-width="1.3"/>
<line x1="487.20" y1="227.3" x2="487.20" y2="230.3" stroke="#999999" stroke-width="1.3"/>
<line x1="576.40" y1="426.1" x2="576.40" y2="423.1" stroke="#999999" stroke-width="1.3"/>
<line x1="576.40" y1="227.3" x2="576.40" y2="230.3" stroke="#999999" stroke-width="1.3"/>
<clipPath id="clipd"><rect x="396.5" y="227.3" width="269.1" height="198.8"/></clipPath>
<g clip-path="url(#clipd)">
<rect x="399.97" y="304.58" width="1.8" height="1.8" fill="#111"/>
<rect x="407.40" y="306.81" width="1.8" height="1.8" fill="#111"/>
<rect x="415.13" y="307.79" width="1.8" height="1.8" fill="#111"/>
<rect x="422.91" y="308.42" width="1.8" height="1.8" fill="#111"/>
<rect x="430.69" y="308.88" width="1.8" height="1.8" fill="#111"/>
<rect x="438.49" y="309.24" width="1.8" height="1.8" fill="#111"/>
<rect x="446.28" y="309.54" width="1.8" height="1.8" fill="#111"/>
<rect x="454.08" y="309.80" width="1.8" height="1.8" fill="#111"/>
<rect x="461.87" y="310.02" width="1.8" height="1.8" fill="#111"/>
<rect x="469.67" y="310.22" width="1.8" height="1.8" fill="#111"/>
<rect x="477.47" y="310.40" width="1.8" height="1.8" fill="#111"/>
<rect x="485.27" y="310.56" width="1.8" height="1.8" fill="#111"/>
<rect x="493.06" y="310.71" width="1.8" height="1.8" fill="#111"/>
<rect x="500.86" y="310.84" width="1.8" height="1.8" fill="#111"/>
<rect x="508.66" y="310.97" width="1.8" height="1.8" fill="#111"/>
<rect x="516.46" y="311.09" width="1.8" height="1.8" fill="#111"/>
<rect x="524.26" y="311.20" width="1.8" height="1.8" fill="#111"/>
<rect x="532.06" y="311.30" width="1.8" height="1.8" fill="#111"/>
<rect x="539.86" y="311.40" width="1.8" height="1.8" fill="#111"/>
<rect x="547.66" y="311.49" width="1.8" height="1.8" fill="#111"/>
<rect x="555.46" y="311.58" width="1.8" height="1.8" fill="#111"/>
<rect x="563.26" y="311.67" width="1.8" height="1.8" fill="#111"/>
<rect x="571.06" y="311.75" width="1.8" height="1.8" fill="#111"/>
<rect x="578.86" y="311.82" width="1.8" height="1.8" fill="#111"/>
<rect x="586.66" y="311.90" width="1.8" height="1.8" fill="#111"/>
<rect x="594.46" y="311.97" width="1.8" height="1.8" fill="#111"/>
<rect x="602.26" y="312.03" width="1.8" height="1.8" fill="#111"/>
<rect x="610.06" y="312.10" width="1.8" height="1.8" fill="#111"/>
<rect x="617.86" y="312.16" width="1.8" height="1.8" fill="#111"/>
<rect x="625.66" y="312.22" width="1.8" height="1.8" fill="#111"/>
<rect x="633.46" y="312.28" width="1.8" height="1.8" fill="#111"/>
<rect x="641.26" y="312.34" width="1.8" height="1.8" fill="#111"/>
<rect x="649.05" y="312.39" width="1.8" height="1.8" fill="#111"/>
<rect x="656.85" y="312.45" width="1.8" height="1.8" fill="#111"/>
<rect x="664.65" y="312.50" width="1.8" height="1.8" fill="#111"/>
<path d="M398.09,298.44 L398.09,298.56 L398.09,298.68 L398.10,298.80 L398.10,298.93 L398.10,299.05 L398.10,299.17 L398.10,299.29 L398.11,299.41 L398.11,299.54 L398.11,299.66 L398.11,299.78 L398.12,299.90 L398.12,300.03 L398.12,300.15 L398.12,300.27 L398.13,300.39 L398.13,300.51 L398.13,300.64 L398.13,300.76 L398.14,300.88 L398.14,301.00 L398.14,301.12 L398.15,301.25 L398.15,301.37 L398.15,301.49 L398.16,301.61 L398.16,301.73 L398.16,301.86 L398.17,301.98 L398.17,302.10 L398.17,302.22 L398.18,302.35 L398.18,302.47 L398.18,302.59 L398.19,302.71 L398.19,302.83 L398.20,302.96 L398.20,303.08 L398.21,303.20 L398.21,303.32 L398.21,303.44 L398.22,303.57 L398.22,303.69 L398.23,303.81 L398.23,303.93 L398.24,304.05 L398.24,304.18 L398.25,304.30 L398.25,304.42 L398.26,304.54 L398.27,304.66 L398.27,304.79 L398.28,304.91 L398.28,305.03 L398.29,305.15 L398.30,305.28 L398.30,305.40 L398.31,305.52 L398.31,305.64 L398.32,305.76 L398.33,305.89 L398.34,306.01 L398.34,306.13 L398.35,306.25 L398.36,306.37 L398.37,306.50 L398.37,306.62 L398.38,306.74 L398.39,306.86 L398.40,306.98 L398.41,307.11 L398.42,307.23 L398.42,307.35 L398.43,307.47 L398.44,307.60 L398.45,307.72 L398.46,307.84 L398.47,307.96 L398.48,308.08 L398.49,308.21 L398.50,308.33 L398.51,308.45 L398.53,308.57 L398.54,308.69 L398.55,308.82 L398.56,308.94 L398.57,309.06 L398.58,309.18 L398.60,309.30 L398.61,309.43 L398.62,309.55 L398.64,309.67 L398.65,309.79 L398.66,309.92 L398.68,310.04 L398.69,310.16 L398.71,310.28 L398.72,310.40 L398.74,310.53 L398.76,310.65 L398.77,310.77 L398.79,310.89 L398.81,311.01 L398.82,311.14 L398.84,311.26 L398.86,311.38 L398.88,311.50 L398.90,311.62 L398.92,311.75 L398.94,311.87 L398.96,311.99 L398.98,312.11 L399.00,312.23 L399.02,312.36 L399.04,312.48 L399.06,312.60 L399.09,312.72 L399.11,312.85 L399.13,312.97 L399.16,313.09 L399.18,313.21 L399.21,313.33 L399.23,313.46 L399.26,313.58 L399.29,313.70 L399.32,313.82 L399.35,313.94 L399.37,314.07 L399.40,314.19 L399.43,314.31 L399.47,314.43 L399.50,314.55 L399.53,314.68 L399.56,314.80 L399.60,314.92 L399.63,315.04 L399.67,315.17 L399.70,315.29 L399.74,315.41 L399.78,315.53 L399.81,315.65 L399.85,315.78 L399.89,315.90 L399.93,316.02 L399.98,316.14 L400.02,316.26 L400.06,316.39 L400.11,316.51 L400.15,316.63 L400.20,316.75 L400.25,316.87 L400.29,317.00 L400.34,317.12 L400.39,317.24 L400.45,317.36 L400.50,317.49 L400.55,317.61 L400.61,317.73 L400.66,317.85 L400.72,317.97 L400.78,318.10 L400.84,318.22 L400.90,318.34 L400.97,318.46 L401.03,318.58 L401.09,318.71 L401.16,318.83 L401.23,318.95 L401.30,319.07 L401.37,319.19 L401.44,319.32 L401.52,319.44 L401.59,319.56 L401.67,319.68 L401.75,319.80 L401.83,319.93 L401.91,320.05 L402.00,320.17 L402.09,320.29 L402.17,320.42 L402.26,320.54 L402.36,320.66 L402.45,320.78 L402.55,320.90 L402.64,321.03 L402.74,321.15 L402.85,321.27 L402.95,321.39 L403.06,321.51 L403.17,321.64 L403.28,321.76 L403.39,321.88 L403.51,322.00 L403.63,322.12 L403.75,322.25 L403.87,322.37 L404.00,322.49 L404.13,322.61 L404.26,322.74 L404.40,322.86 L404.54,322.98 L404.68,323.10 L404.82,323.22 L404.97,323.35 L405.12,323.47 L405.27,323.59 L405.43,323.71 L405.59,323.83 L405.75,323.96 L405.92,324.08 L406.09,324.20 L406.27,324.32 L406.45,324.44 L406.63,324.57 L406.82,324.69 L407.01,324.81 L407.20,324.93 L407.40,325.06 L407.60,325.18 L407.81,325.30 L408.02,325.42 L408.24,325.54 L408.46,325.67 L408.68,325.79 L408.92,325.91 L409.15,326.03 L409.39,326.15 L409.64,326.28 L409.89,326.40 L410.15,326.52 L410.41,326.64 L410.68,326.76 L410.95,326.89 L411.23,327.01 L411.51,327.13 L411.81,327.25 L412.10,327.37 L412.41,327.50 L412.72,327.62 L413.04,327.74 L413.36,327.86 L413.70,327.99 L414.03,328.11 L414.38,328.23 L414.73,328.35 L415.10,328.47 L415.46,328.60 L415.84,328.72 L416.23,328.84 L416.62,328.96 L417.02,329.08 L417.43,329.21 L417.85,329.33 L418.28,329.45 L418.72,329.57 L419.17,329.69 L419.62,329.82 L420.09,329.94 L420.57,330.06 L421.06,330.18 L421.55,330.31 L422.06,330.43 L422.58,330.55 L423.11,330.67 L423.65,330.79 L424.21,330.92 L424.77,331.04 L425.35,331.16 L425.94,331.28 L426.55,331.40 L427.16,331.53 L427.79,331.65 L428.44,331.77 L429.09,331.89 L429.77,332.01 L430.45,332.14 L431.15,332.26 L431.87,332.38 L432.60,332.50 L433.35,332.63 L434.11,332.75 L434.89,332.87 L435.69,332.99 L436.50,333.11 L437.33,333.24 L438.18,333.36 L439.05,333.48 L439.93,333.60 L440.84,333.72 L441.77,333.85 L442.71,333.97 L443.68,334.09 L444.66,334.21 L445.67,334.33 L446.70,334.46 L447.75,334.58 L448.83,334.70 L449.92,334.82 L451.04,334.94 L452.19,335.07 L453.36,335.19 L454.56,335.31 L455.78,335.43 L457.02,335.56 L458.30,335.68 L459.60,335.80 L460.93,335.92 L462.29,336.04 L463.68,336.17 L465.10,336.29 L466.55,336.41 L468.03,336.53 L469.54,336.65 L471.08,336.78 L472.66,336.90 L474.27,337.02 L475.92,337.14 L477.60,337.26 L479.32,337.39 L481.08,337.51 L482.87,337.63 L484.71,337.75 L486.58,337.88 L488.49,338.00 L490.44,338.12 L492.44,338.24 L494.48,338.36 L496.56,338.49 L498.69,338.61 L500.87,338.73 L503.09,338.85 L505.36,338.97 L507.68,339.10 L510.04,339.22 L512.46,339.34 L514.93,339.46 L517.46,339.58 L520.04,339.71 L522.68,339.83 L525.37,339.95 L528.12,340.07 L530.93,340.20 L533.80,340.32 L536.73,340.44 L539.73,340.56 L542.79,340.68 L545.91,340.81 L549.11,340.93 L552.37,341.05 L555.70,341.17 L559.11,341.29 L562.59,341.42 L566.14,341.54 L569.77,341.66 L573.48,341.78 L577.27,341.90 L581.14,342.03 L585.10,342.15 L589.14,342.27 L593.27,342.39 L597.48,342.51 L601.79,342.64 L606.19,342.76 L610.69,342.88 L615.28,343.00 L619.97,343.13 L624.77,343.25 L629.66,343.37 L634.67,343.49 L639.78,343.61 L645.00,343.74 L650.33,343.86 L655.78,343.98 L661.35,344.10 L665.60,344.19" fill="none" stroke="#111" stroke-width="1.8" stroke-dasharray="6.2 6.3" stroke-dashoffset="-4.0"/>
</g>
<circle cx="432.1" cy="310.3" r="4.2" fill="none" stroke="#111" stroke-width="1.4"/>
<circle cx="476.4" cy="310.7" r="4.2" fill="none" stroke="#111" stroke-width="1.4"/>
<circle cx="521.3" cy="311.6" r="4.2" fill="none" stroke="#111" stroke-width="1.4"/>
<circle cx="565.4" cy="312.4" r="4.2" fill="none" stroke="#111" stroke-width="1.4"/>
<circle cx="610.2" cy="313.3" r="4.2" fill="none" stroke="#111" stroke-width="1.4"/>
<circle cx="654.7" cy="313.7" r="4.2" fill="none" stroke="#111" stroke-width="1.4"/>
<circle cx="432.1" cy="332.9" r="4.85" fill="#1a1a1a"/>
<circle cx="476.4" cy="336.4" r="4.85" fill="#1a1a1a"/>
<circle cx="521.3" cy="339.5" r="4.85" fill="#1a1a1a"/>
<circle cx="565.4" cy="341.8" r="4.85" fill="#1a1a1a"/>
<circle cx="610.2" cy="343.0" r="4.85" fill="#1a1a1a"/>
<circle cx="654.7" cy="344.1" r="4.85" fill="#1a1a1a"/>
<text transform="translate(532.75,245.80) scale(1.0940,1.04)" font-size="15" stroke="#1a1a1a" stroke-width="0.22">Porosity</text>
<text transform="translate(593.38,245.80) scale(1.4003,1.0)" font-size="15" stroke="#1a1a1a" stroke-width="0.22">:</text>
<text transform="translate(604.61,245.80) scale(1.1317,1.06)" font-size="15" stroke="#1a1a1a" stroke-width="0.22">14.3</text>
<text transform="translate(638.05,245.80) scale(1.2227,1.03)" font-size="15" stroke="#1a1a1a" stroke-width="0.22">%</text>
<text transform="translate(404.90,243.40) scale(1.0555,1.0)" font-size="15.8" stroke="#1a1a1a" stroke-width="0.22">d</text>
<text transform="translate(414.80,243.40) scale(1.1219,1.0)" font-size="15.8" stroke="#1a1a1a" stroke-width="0.22">)</text>
<rect x="81.0" y="451.8" width="262.4" height="197.3" fill="none" stroke="#999999" stroke-width="1.6"/>
<line x1="81.0" y1="479.00" x2="84.0" y2="479.00" stroke="#999999" stroke-width="1.3"/>
<line x1="343.4" y1="479.00" x2="340.4" y2="479.00" stroke="#999999" stroke-width="1.3"/>
<text transform="translate(33.69,489.00) scale(0.9524,1.041)" font-size="18.5" stroke="#1a1a1a" stroke-width="0.18" > 0</text><path transform="translate(33.69,489.00) scale(0.00860,-0.00903)" d="M763 0L583 0L583 1147C540 1106 483 1065 412 1023C341 981 278 950 222 930L222 1104C323 1151 411 1208 486 1276C561 1343 614 1408 646 1466L763 1466Z" stroke="#1a1a1a" stroke-width="0.18" vector-effect="non-scaling-stroke"/>
<text transform="translate(54.53,480.00) scale(1.0097,1.041)" font-size="12.8" stroke="#1a1a1a" stroke-width="0.18" >- 0</text><path transform="translate(58.83,480.00) scale(0.00631,-0.00625)" d="M763 0L583 0L583 1147C540 1106 483 1065 412 1023C341 981 278 950 222 930L222 1104C323 1151 411 1208 486 1276C561 1343 614 1408 646 1466L763 1466Z" stroke="#1a1a1a" stroke-width="0.18" vector-effect="non-scaling-stroke"/>
<line x1="81.0" y1="515.65" x2="84.0" y2="515.65" stroke="#999999" stroke-width="1.3"/>
<line x1="343.4" y1="515.65" x2="340.4" y2="515.65" stroke="#999999" stroke-width="1.3"/>
<text transform="translate(33.69,525.65) scale(0.9524,1.041)" font-size="18.5" stroke="#1a1a1a" stroke-width="0.18" > 0</text><path transform="translate(33.69,525.65) scale(0.00860,-0.00903)" d="M763 0L583 0L583 1147C540 1106 483 1065 412 1023C341 981 278 950 222 930L222 1104C323 1151 411 1208 486 1276C561 1343 614 1408 646 1466L763 1466Z" stroke="#1a1a1a" stroke-width="0.18" vector-effect="non-scaling-stroke"/>
<text transform="translate(54.52,516.65) scale(1.0181,1.041)" font-size="12.8" stroke="#1a1a1a" stroke-width="0.18" >- 2</text><path transform="translate(58.86,516.65) scale(0.00636,-0.00625)" d="M763 0L583 0L583 1147C540 1106 483 1065 412 1023C341 981 278 950 222 930L222 1104C323 1151 411 1208 486 1276C561 1343 614 1408 646 1466L763 1466Z" stroke="#1a1a1a" stroke-width="0.18" vector-effect="non-scaling-stroke"/>
<line x1="81.0" y1="552.30" x2="84.0" y2="552.30" stroke="#999999" stroke-width="1.3"/>
<line x1="343.4" y1="552.30" x2="340.4" y2="552.30" stroke="#999999" stroke-width="1.3"/>
<text transform="translate(33.69,562.30) scale(0.9524,1.041)" font-size="18.5" stroke="#1a1a1a" stroke-width="0.18" > 0</text><path transform="translate(33.69,562.30) scale(0.00860,-0.00903)" d="M763 0L583 0L583 1147C540 1106 483 1065 412 1023C341 981 278 950 222 930L222 1104C323 1151 411 1208 486 1276C561 1343 614 1408 646 1466L763 1466Z" stroke="#1a1a1a" stroke-width="0.18" vector-effect="non-scaling-stroke"/>
<text transform="translate(54.53,553.30) scale(1.0025,1.041)" font-size="12.8" stroke="#1a1a1a" stroke-width="0.18" >- 4</text><path transform="translate(58.80,553.30) scale(0.00627,-0.00625)" d="M763 0L583 0L583 1147C540 1106 483 1065 412 1023C341 981 278 950 222 930L222 1104C323 1151 411 1208 486 1276C561 1343 614 1408 646 1466L763 1466Z" stroke="#1a1a1a" stroke-width="0.18" vector-effect="non-scaling-stroke"/>
<line x1="81.0" y1="588.95" x2="84.0" y2="588.95" stroke="#999999" stroke-width="1.3"/>
<line x1="343.4" y1="588.95" x2="340.4" y2="588.95" stroke="#999999" stroke-width="1.3"/>
<text transform="translate(33.69,598.95) scale(0.9524,1.041)" font-size="18.5" stroke="#1a1a1a" stroke-width="0.18" > 0</text><path transform="translate(33.69,598.95) scale(0.00860,-0.00903)" d="M763 0L583 0L583 1147C540 1106 483 1065 412 1023C341 981 278 950 222 930L222 1104C323 1151 411 1208 486 1276C561 1343 614 1408 646 1466L763 1466Z" stroke="#1a1a1a" stroke-width="0.18" vector-effect="non-scaling-stroke"/>
<text transform="translate(54.52,589.95) scale(1.0133,1.041)" font-size="12.8" stroke="#1a1a1a" stroke-width="0.18" >- 6</text><path transform="translate(58.84,589.95) scale(0.00633,-0.00625)" d="M763 0L583 0L583 1147C540 1106 483 1065 412 1023C341 981 278 950 222 930L222 1104C323 1151 411 1208 486 1276C561 1343 614 1408 646 1466L763 1466Z" stroke="#1a1a1a" stroke-width="0.18" vector-effect="non-scaling-stroke"/>
<line x1="81.0" y1="625.60" x2="84.0" y2="625.60" stroke="#999999" stroke-width="1.3"/>
<line x1="343.4" y1="625.60" x2="340.4" y2="625.60" stroke="#999999" stroke-width="1.3"/>
<text transform="translate(33.69,635.60) scale(0.9524,1.041)" font-size="18.5" stroke="#1a1a1a" stroke-width="0.18" > 0</text><path transform="translate(33.69,635.60) scale(0.00860,-0.00903)" d="M763 0L583 0L583 1147C540 1106 483 1065 412 1023C341 981 278 950 222 930L222 1104C323 1151 411 1208 486 1276C561 1343 614 1408 646 1466L763 1466Z" stroke="#1a1a1a" stroke-width="0.18" vector-effect="non-scaling-stroke"/>
<text transform="translate(54.52,626.60) scale(1.0129,1.041)" font-size="12.8" stroke="#1a1a1a" stroke-width="0.18" >- 8</text><path transform="translate(58.84,626.60) scale(0.00633,-0.00625)" d="M763 0L583 0L583 1147C540 1106 483 1065 412 1023C341 981 278 950 222 930L222 1104C323 1151 411 1208 486 1276C561 1343 614 1408 646 1466L763 1466Z" stroke="#1a1a1a" stroke-width="0.18" vector-effect="non-scaling-stroke"/>
<line x1="168.47" y1="649.1" x2="168.47" y2="646.1" stroke="#999999" stroke-width="1.3"/>
<line x1="168.47" y1="451.8" x2="168.47" y2="454.8" stroke="#999999" stroke-width="1.3"/>
<line x1="255.93" y1="649.1" x2="255.93" y2="646.1" stroke="#999999" stroke-width="1.3"/>
<line x1="255.93" y1="451.8" x2="255.93" y2="454.8" stroke="#999999" stroke-width="1.3"/>
<clipPath id="clipe"><rect x="79.5" y="451.8" width="263.9" height="197.3"/></clipPath>
<g clip-path="url(#clipe)">
<rect x="80.32" y="515.87" width="1.8" height="1.8" fill="#111"/>
<rect x="82.86" y="523.06" width="1.8" height="1.8" fill="#111"/>
<rect x="89.72" y="526.60" width="1.8" height="1.8" fill="#111"/>
<rect x="97.34" y="528.25" width="1.8" height="1.8" fill="#111"/>
<rect x="105.07" y="529.30" width="1.8" height="1.8" fill="#111"/>
<rect x="112.83" y="530.07" width="1.8" height="1.8" fill="#111"/>
<rect x="120.61" y="530.68" width="1.8" height="1.8" fill="#111"/>
<rect x="128.39" y="531.17" width="1.8" height="1.8" fill="#111"/>
<rect x="136.18" y="531.60" width="1.8" height="1.8" fill="#111"/>
<rect x="143.97" y="531.97" width="1.8" height="1.8" fill="#111"/>
<rect x="151.77" y="532.29" width="1.8" height="1.8" fill="#111"/>
<rect x="159.56" y="532.59" width="1.8" height="1.8" fill="#111"/>
<rect x="167.36" y="532.85" width="1.8" height="1.8" fill="#111"/>
<rect x="175.15" y="533.09" width="1.8" height="1.8" fill="#111"/>
<rect x="182.95" y="533.32" width="1.8" height="1.8" fill="#111"/>
<rect x="190.75" y="533.52" width="1.8" height="1.8" fill="#111"/>
<rect x="198.54" y="533.72" width="1.8" height="1.8" fill="#111"/>
<rect x="206.34" y="533.90" width="1.8" height="1.8" fill="#111"/>
<rect x="214.14" y="534.07" width="1.8" height="1.8" fill="#111"/>
<rect x="221.94" y="534.23" width="1.8" height="1.8" fill="#111"/>
<rect x="229.74" y="534.38" width="1.8" height="1.8" fill="#111"/>
<rect x="237.54" y="534.52" width="1.8" height="1.8" fill="#111"/>
<rect x="245.33" y="534.66" width="1.8" height="1.8" fill="#111"/>
<rect x="253.13" y="534.79" width="1.8" height="1.8" fill="#111"/>
<rect x="260.93" y="534.92" width="1.8" height="1.8" fill="#111"/>
<rect x="268.73" y="535.04" width="1.8" height="1.8" fill="#111"/>
<rect x="276.53" y="535.15" width="1.8" height="1.8" fill="#111"/>
<rect x="284.33" y="535.26" width="1.8" height="1.8" fill="#111"/>
<rect x="292.13" y="535.37" width="1.8" height="1.8" fill="#111"/>
<rect x="299.93" y="535.47" width="1.8" height="1.8" fill="#111"/>
<rect x="307.73" y="535.57" width="1.8" height="1.8" fill="#111"/>
<rect x="315.53" y="535.66" width="1.8" height="1.8" fill="#111"/>
<rect x="323.33" y="535.76" width="1.8" height="1.8" fill="#111"/>
<rect x="331.13" y="535.85" width="1.8" height="1.8" fill="#111"/>
<rect x="338.93" y="535.93" width="1.8" height="1.8" fill="#111"/>
<path d="M81.09,517.21 L81.09,517.27 L81.09,517.32 L81.09,517.38 L81.10,517.43 L81.10,517.49 L81.10,517.54 L81.10,517.60 L81.10,517.65 L81.11,517.71 L81.11,517.76 L81.11,517.82 L81.11,517.87 L81.12,517.93 L81.12,517.98 L81.12,518.04 L81.12,518.10 L81.13,518.15 L81.13,518.21 L81.13,518.26 L81.13,518.32 L81.14,518.37 L81.14,518.43 L81.14,518.48 L81.15,518.54 L81.15,518.59 L81.15,518.65 L81.16,518.70 L81.16,518.76 L81.16,518.81 L81.17,518.87 L81.17,518.93 L81.17,518.98 L81.18,519.04 L81.18,519.09 L81.18,519.15 L81.19,519.20 L81.19,519.26 L81.20,519.31 L81.20,519.37 L81.21,519.42 L81.21,519.48 L81.21,519.53 L81.22,519.59 L81.22,519.64 L81.23,519.70 L81.23,519.75 L81.24,519.81 L81.24,519.87 L81.25,519.92 L81.25,519.98 L81.26,520.03 L81.27,520.09 L81.27,520.14 L81.28,520.20 L81.28,520.25 L81.29,520.31 L81.30,520.36 L81.30,520.42 L81.31,520.47 L81.32,520.53 L81.32,520.58 L81.33,520.64 L81.34,520.70 L81.34,520.75 L81.35,520.81 L81.36,520.86 L81.37,520.92 L81.37,520.97 L81.38,521.03 L81.39,521.08 L81.40,521.14 L81.41,521.19 L81.42,521.25 L81.43,521.30 L81.43,521.36 L81.44,521.41 L81.45,521.47 L81.46,521.53 L81.47,521.58 L81.48,521.64 L81.49,521.69 L81.50,521.75 L81.52,521.80 L81.53,521.86 L81.54,521.91 L81.55,521.97 L81.56,522.02 L81.57,522.08 L81.59,522.13 L81.60,522.19 L81.61,522.24 L81.62,522.30 L81.64,522.36 L81.65,522.41 L81.67,522.47 L81.68,522.52 L81.69,522.58 L81.71,522.63 L81.73,522.69 L81.74,522.74 L81.76,522.80 L81.77,522.85 L81.79,522.91 L81.81,522.96 L81.82,523.02 L81.84,523.07 L81.86,523.13 L81.88,523.18 L81.90,523.24 L81.92,523.30 L81.94,523.35 L81.96,523.41 L81.98,523.46 L82.00,523.52 L82.02,523.57 L82.04,523.63 L82.07,523.68 L82.09,523.74 L82.11,523.79 L82.14,523.85 L82.16,523.90 L82.19,523.96 L82.21,524.01 L82.24,524.07 L82.26,524.13 L82.29,524.18 L82.32,524.24 L82.35,524.29 L82.38,524.35 L82.41,524.40 L82.44,524.46 L82.47,524.51 L82.50,524.57 L82.53,524.62 L82.56,524.68 L82.60,524.73 L82.63,524.79 L82.67,524.84 L82.70,524.90 L82.74,524.96 L82.78,525.01 L82.82,525.07 L82.86,525.12 L82.90,525.18 L82.94,525.23 L82.98,525.29 L83.02,525.34 L83.07,525.40 L83.11,525.45 L83.16,525.51 L83.20,525.56 L83.25,525.62 L83.30,525.67 L83.35,525.73 L83.40,525.78 L83.45,525.84 L83.50,525.90 L83.56,525.95 L83.61,526.01 L83.67,526.06 L83.73,526.12 L83.79,526.17 L83.85,526.23 L83.91,526.28 L83.97,526.34 L84.03,526.39 L84.10,526.45 L84.17,526.50 L84.24,526.56 L84.31,526.61 L84.38,526.67 L84.45,526.73 L84.52,526.78 L84.60,526.84 L84.68,526.89 L84.76,526.95 L84.84,527.00 L84.92,527.06 L85.01,527.11 L85.09,527.17 L85.18,527.22 L85.27,527.28 L85.36,527.33 L85.46,527.39 L85.55,527.44 L85.65,527.50 L85.75,527.56 L85.86,527.61 L85.96,527.67 L86.07,527.72 L86.18,527.78 L86.29,527.83 L86.40,527.89 L86.52,527.94 L86.64,528.00 L86.76,528.05 L86.88,528.11 L87.01,528.16 L87.14,528.22 L87.27,528.27 L87.41,528.33 L87.55,528.39 L87.69,528.44 L87.83,528.50 L87.98,528.55 L88.13,528.61 L88.29,528.66 L88.44,528.72 L88.60,528.77 L88.77,528.83 L88.94,528.88 L89.11,528.94 L89.28,528.99 L89.46,529.05 L89.64,529.10 L89.83,529.16 L90.02,529.21 L90.22,529.27 L90.42,529.33 L90.62,529.38 L90.83,529.44 L91.04,529.49 L91.26,529.55 L91.48,529.60 L91.70,529.66 L91.93,529.71 L92.17,529.77 L92.41,529.82 L92.66,529.88 L92.91,529.93 L93.17,529.99 L93.43,530.04 L93.70,530.10 L93.97,530.16 L94.25,530.21 L94.54,530.27 L94.83,530.32 L95.13,530.38 L95.43,530.43 L95.75,530.49 L96.06,530.54 L96.39,530.60 L96.72,530.65 L97.06,530.71 L97.41,530.76 L97.76,530.82 L98.13,530.87 L98.49,530.93 L98.87,530.99 L99.26,531.04 L99.65,531.10 L100.06,531.15 L100.47,531.21 L100.89,531.26 L101.32,531.32 L101.76,531.37 L102.20,531.43 L102.66,531.48 L103.13,531.54 L103.61,531.59 L104.10,531.65 L104.59,531.70 L105.10,531.76 L105.62,531.82 L106.16,531.87 L106.70,531.93 L107.25,531.98 L107.82,532.04 L108.40,532.09 L108.99,532.15 L109.60,532.20 L110.21,532.26 L110.85,532.31 L111.49,532.37 L112.15,532.42 L112.82,532.48 L113.51,532.53 L114.21,532.59 L114.93,532.64 L115.66,532.70 L116.41,532.76 L117.17,532.81 L117.95,532.87 L118.75,532.92 L119.57,532.98 L120.40,533.03 L121.25,533.09 L122.12,533.14 L123.01,533.20 L123.92,533.25 L124.84,533.31 L125.79,533.36 L126.76,533.42 L127.74,533.47 L128.75,533.53 L129.78,533.59 L130.84,533.64 L131.91,533.70 L133.01,533.75 L134.14,533.81 L135.28,533.86 L136.46,533.92 L137.65,533.97 L138.88,534.03 L140.13,534.08 L141.40,534.14 L142.71,534.19 L144.04,534.25 L145.40,534.30 L146.79,534.36 L148.21,534.42 L149.67,534.47 L151.15,534.53 L152.66,534.58 L154.21,534.64 L155.79,534.69 L157.41,534.75 L159.06,534.80 L160.74,534.86 L162.46,534.91 L164.22,534.97 L166.02,535.02 L167.86,535.08 L169.73,535.13 L171.65,535.19 L173.61,535.25 L175.61,535.30 L177.65,535.36 L179.74,535.41 L181.87,535.47 L184.05,535.52 L186.27,535.58 L188.54,535.63 L190.87,535.69 L193.24,535.74 L195.66,535.80 L198.14,535.85 L200.67,535.91 L203.25,535.96 L205.89,536.02 L208.59,536.07 L211.34,536.13 L214.16,536.19 L217.03,536.24 L219.97,536.30 L222.97,536.35 L226.04,536.41 L229.17,536.46 L232.37,536.52 L235.64,536.57 L238.98,536.63 L242.39,536.68 L245.88,536.74 L249.44,536.79 L253.07,536.85 L256.79,536.90 L260.59,536.96 L264.46,537.02 L268.42,537.07 L272.47,537.13 L276.61,537.18 L280.83,537.24 L285.15,537.29 L289.55,537.35 L294.06,537.40 L298.66,537.46 L303.36,537.51 L308.16,537.57 L313.07,537.62 L318.08,537.68 L323.20,537.73 L328.43,537.79 L333.77,537.85 L339.23,537.90 L343.40,537.94" fill="none" stroke="#111" stroke-width="1.8" stroke-dasharray="6.2 6.3" stroke-dashoffset="-2.1"/>
</g>
<circle cx="114.3" cy="530.85" r="4.2" fill="none" stroke="#111" stroke-width="1.4"/>
<circle cx="158.0" cy="533.05" r="4.2" fill="none" stroke="#111" stroke-width="1.4"/>
<circle cx="201.5" cy="535.85" r="4.2" fill="none" stroke="#111" stroke-width="1.4"/>
<circle cx="245.6" cy="535.75" r="4.2" fill="none" stroke="#111" stroke-width="1.4"/>
<circle cx="289.0" cy="535.15" r="4.2" fill="none" stroke="#111" stroke-width="1.4"/>
<circle cx="332.7" cy="536.95" r="4.2" fill="none" stroke="#111" stroke-width="1.4"/>
<circle cx="114.3" cy="532.85" r="4.85" fill="#1a1a1a"/>
<circle cx="158.0" cy="534.75" r="4.85" fill="#1a1a1a"/>
<circle cx="201.5" cy="535.85" r="4.85" fill="#1a1a1a"/>
<circle cx="245.6" cy="535.75" r="4.85" fill="#1a1a1a"/>
<circle cx="289.0" cy="537.25" r="4.85" fill="#1a1a1a"/>
<circle cx="332.7" cy="538.75" r="4.85" fill="#1a1a1a"/>
<text transform="translate(210.25,471.00) scale(1.0940,1.04)" font-size="15" stroke="#1a1a1a" stroke-width="0.22">Porosity</text>
<text transform="translate(270.88,471.00) scale(1.4003,1.0)" font-size="15" stroke="#1a1a1a" stroke-width="0.22">:</text>
<text transform="translate(283.06,471.00) scale(1.1197,1.06)" font-size="15" stroke="#1a1a1a" stroke-width="0.22">20.2</text>
<text transform="translate(316.05,471.00) scale(1.2227,1.03)" font-size="15" stroke="#1a1a1a" stroke-width="0.22">%</text>
<text transform="translate(88.51,468.00) scale(1.0251,1.0)" font-size="15.8" stroke="#1a1a1a" stroke-width="0.22">e</text>
<text transform="translate(98.92,468.00) scale(0.9071,1.0)" font-size="15.8" stroke="#1a1a1a" stroke-width="0.22">)</text>
<text transform="translate(75.86,674.60) scale(1,1.041)" font-size="18.5" stroke="#1a1a1a" stroke-width="0.18" >0</text>
<text transform="translate(158.18,674.60) scale(1,1.041)" font-size="18.5" stroke="#1a1a1a" stroke-width="0.18" > 0</text><path transform="translate(158.18,674.60) scale(0.00903,-0.00903)" d="M763 0L583 0L583 1147C540 1106 483 1065 412 1023C341 981 278 950 222 930L222 1104C323 1151 411 1208 486 1276C561 1343 614 1408 646 1466L763 1466Z" stroke="#1a1a1a" stroke-width="0.18" vector-effect="non-scaling-stroke"/>
<text transform="translate(245.64,674.60) scale(1,1.041)" font-size="18.5" stroke="#1a1a1a" stroke-width="0.18" >20</text>
<text transform="translate(333.11,674.60) scale(1,1.041)" font-size="18.5" stroke="#1a1a1a" stroke-width="0.18" >30</text>
<rect x="398.9" y="452.0" width="266.70000000000005" height="197.0" fill="none" stroke="#999999" stroke-width="1.6"/>
<line x1="398.9" y1="479.00" x2="401.9" y2="479.00" stroke="#999999" stroke-width="1.3"/>
<line x1="665.6" y1="479.00" x2="662.6" y2="479.00" stroke="#999999" stroke-width="1.3"/>
<text transform="translate(350.89,489.00) scale(0.9524,1.041)" font-size="18.5" stroke="#1a1a1a" stroke-width="0.18" > 0</text><path transform="translate(350.89,489.00) scale(0.00860,-0.00903)" d="M763 0L583 0L583 1147C540 1106 483 1065 412 1023C341 981 278 950 222 930L222 1104C323 1151 411 1208 486 1276C561 1343 614 1408 646 1466L763 1466Z" stroke="#1a1a1a" stroke-width="0.18" vector-effect="non-scaling-stroke"/>
<text transform="translate(372.43,480.00) scale(1.0097,1.041)" font-size="12.8" stroke="#1a1a1a" stroke-width="0.18" >- 0</text><path transform="translate(376.73,480.00) scale(0.00631,-0.00625)" d="M763 0L583 0L583 1147C540 1106 483 1065 412 1023C341 981 278 950 222 930L222 1104C323 1151 411 1208 486 1276C561 1343 614 1408 646 1466L763 1466Z" stroke="#1a1a1a" stroke-width="0.18" vector-effect="non-scaling-stroke"/>
<line x1="398.9" y1="515.65" x2="401.9" y2="515.65" stroke="#999999" stroke-width="1.3"/>
<line x1="665.6" y1="515.65" x2="662.6" y2="515.65" stroke="#999999" stroke-width="1.3"/>
<text transform="translate(350.89,525.65) scale(0.9524,1.041)" font-size="18.5" stroke="#1a1a1a" stroke-width="0.18" > 0</text><path transform="translate(350.89,525.65) scale(0.00860,-0.00903)" d="M763 0L583 0L583 1147C540 1106 483 1065 412 1023C341 981 278 950 222 930L222 1104C323 1151 411 1208 486 1276C561 1343 614 1408 646 1466L763 1466Z" stroke="#1a1a1a" stroke-width="0.18" vector-effect="non-scaling-stroke"/>
<text transform="translate(372.42,516.65) scale(1.0181,1.041)" font-size="12.8" stroke="#1a1a1a" stroke-width="0.18" >- 2</text><path transform="translate(376.76,516.65) scale(0.00636,-0.00625)" d="M763 0L583 0L583 1147C540 1106 483 1065 412 1023C341 981 278 950 222 930L222 1104C323 1151 411 1208 486 1276C561 1343 614 1408 646 1466L763 1466Z" stroke="#1a1a1a" stroke-width="0.18" vector-effect="non-scaling-stroke"/>
<line x1="398.9" y1="552.30" x2="401.9" y2="552.30" stroke="#999999" stroke-width="1.3"/>
<line x1="665.6" y1="552.30" x2="662.6" y2="552.30" stroke="#999999" stroke-width="1.3"/>
<text transform="translate(350.89,562.30) scale(0.9524,1.041)" font-size="18.5" stroke="#1a1a1a" stroke-width="0.18" > 0</text><path transform="translate(350.89,562.30) scale(0.00860,-0.00903)" d="M763 0L583 0L583 1147C540 1106 483 1065 412 1023C341 981 278 950 222 930L222 1104C323 1151 411 1208 486 1276C561 1343 614 1408 646 1466L763 1466Z" stroke="#1a1a1a" stroke-width="0.18" vector-effect="non-scaling-stroke"/>
<text transform="translate(372.43,553.30) scale(1.0025,1.041)" font-size="12.8" stroke="#1a1a1a" stroke-width="0.18" >- 4</text><path transform="translate(376.70,553.30) scale(0.00627,-0.00625)" d="M763 0L583 0L583 1147C540 1106 483 1065 412 1023C341 981 278 950 222 930L222 1104C323 1151 411 1208 486 1276C561 1343 614 1408 646 1466L763 1466Z" stroke="#1a1a1a" stroke-width="0.18" vector-effect="non-scaling-stroke"/>
<line x1="398.9" y1="588.95" x2="401.9" y2="588.95" stroke="#999999" stroke-width="1.3"/>
<line x1="665.6" y1="588.95" x2="662.6" y2="588.95" stroke="#999999" stroke-width="1.3"/>
<text transform="translate(350.89,598.95) scale(0.9524,1.041)" font-size="18.5" stroke="#1a1a1a" stroke-width="0.18" > 0</text><path transform="translate(350.89,598.95) scale(0.00860,-0.00903)" d="M763 0L583 0L583 1147C540 1106 483 1065 412 1023C341 981 278 950 222 930L222 1104C323 1151 411 1208 486 1276C561 1343 614 1408 646 1466L763 1466Z" stroke="#1a1a1a" stroke-width="0.18" vector-effect="non-scaling-stroke"/>
<text transform="translate(372.42,589.95) scale(1.0133,1.041)" font-size="12.8" stroke="#1a1a1a" stroke-width="0.18" >- 6</text><path transform="translate(376.74,589.95) scale(0.00633,-0.00625)" d="M763 0L583 0L583 1147C540 1106 483 1065 412 1023C341 981 278 950 222 930L222 1104C323 1151 411 1208 486 1276C561 1343 614 1408 646 1466L763 1466Z" stroke="#1a1a1a" stroke-width="0.18" vector-effect="non-scaling-stroke"/>
<line x1="398.9" y1="625.60" x2="401.9" y2="625.60" stroke="#999999" stroke-width="1.3"/>
<line x1="665.6" y1="625.60" x2="662.6" y2="625.60" stroke="#999999" stroke-width="1.3"/>
<text transform="translate(350.89,635.60) scale(0.9524,1.041)" font-size="18.5" stroke="#1a1a1a" stroke-width="0.18" > 0</text><path transform="translate(350.89,635.60) scale(0.00860,-0.00903)" d="M763 0L583 0L583 1147C540 1106 483 1065 412 1023C341 981 278 950 222 930L222 1104C323 1151 411 1208 486 1276C561 1343 614 1408 646 1466L763 1466Z" stroke="#1a1a1a" stroke-width="0.18" vector-effect="non-scaling-stroke"/>
<text transform="translate(372.42,626.60) scale(1.0129,1.041)" font-size="12.8" stroke="#1a1a1a" stroke-width="0.18" >- 8</text><path transform="translate(376.74,626.60) scale(0.00633,-0.00625)" d="M763 0L583 0L583 1147C540 1106 483 1065 412 1023C341 981 278 950 222 930L222 1104C323 1151 411 1208 486 1276C561 1343 614 1408 646 1466L763 1466Z" stroke="#1a1a1a" stroke-width="0.18" vector-effect="non-scaling-stroke"/>
<line x1="487.80" y1="649.0" x2="487.80" y2="646.0" stroke="#999999" stroke-width="1.3"/>
<line x1="487.80" y1="452.0" x2="487.80" y2="455.0" stroke="#999999" stroke-width="1.3"/>
<line x1="576.70" y1="649.0" x2="576.70" y2="646.0" stroke="#999999" stroke-width="1.3"/>
<line x1="576.70" y1="452.0" x2="576.70" y2="455.0" stroke="#999999" stroke-width="1.3"/>
<clipPath id="clipf"><rect x="397.4" y="452.0" width="268.20000000000005" height="197.0"/></clipPath>
<g clip-path="url(#clipf)">
<rect x="400.12" y="528.55" width="1.8" height="1.8" fill="#111"/>
<rect x="407.81" y="529.76" width="1.8" height="1.8" fill="#111"/>
<rect x="415.59" y="530.22" width="1.8" height="1.8" fill="#111"/>
<rect x="423.39" y="530.50" width="1.8" height="1.8" fill="#111"/>
<rect x="431.18" y="530.72" width="1.8" height="1.8" fill="#111"/>
<rect x="438.98" y="530.88" width="1.8" height="1.8" fill="#111"/>
<rect x="446.78" y="531.02" width="1.8" height="1.8" fill="#111"/>
<rect x="454.58" y="531.14" width="1.8" height="1.8" fill="#111"/>
<rect x="462.38" y="531.24" width="1.8" height="1.8" fill="#111"/>
<rect x="470.18" y="531.33" width="1.8" height="1.8" fill="#111"/>
<rect x="477.98" y="531.41" width="1.8" height="1.8" fill="#111"/>
<rect x="485.78" y="531.48" width="1.8" height="1.8" fill="#111"/>
<rect x="493.58" y="531.55" width="1.8" height="1.8" fill="#111"/>
<rect x="501.38" y="531.61" width="1.8" height="1.8" fill="#111"/>
<rect x="509.18" y="531.67" width="1.8" height="1.8" fill="#111"/>
<rect x="516.98" y="531.72" width="1.8" height="1.8" fill="#111"/>
<rect x="524.78" y="531.77" width="1.8" height="1.8" fill="#111"/>
<rect x="532.58" y="531.82" width="1.8" height="1.8" fill="#111"/>
<rect x="540.38" y="531.86" width="1.8" height="1.8" fill="#111"/>
<rect x="548.18" y="531.91" width="1.8" height="1.8" fill="#111"/>
<rect x="555.98" y="531.95" width="1.8" height="1.8" fill="#111"/>
<rect x="563.78" y="531.98" width="1.8" height="1.8" fill="#111"/>
<rect x="571.58" y="532.02" width="1.8" height="1.8" fill="#111"/>
<rect x="579.38" y="532.05" width="1.8" height="1.8" fill="#111"/>
<rect x="587.18" y="532.09" width="1.8" height="1.8" fill="#111"/>
<rect x="594.98" y="532.12" width="1.8" height="1.8" fill="#111"/>
<rect x="602.78" y="532.15" width="1.8" height="1.8" fill="#111"/>
<rect x="610.58" y="532.18" width="1.8" height="1.8" fill="#111"/>
<rect x="618.38" y="532.21" width="1.8" height="1.8" fill="#111"/>
<rect x="626.18" y="532.24" width="1.8" height="1.8" fill="#111"/>
<rect x="633.98" y="532.26" width="1.8" height="1.8" fill="#111"/>
<rect x="641.78" y="532.29" width="1.8" height="1.8" fill="#111"/>
<rect x="649.58" y="532.31" width="1.8" height="1.8" fill="#111"/>
<rect x="657.38" y="532.34" width="1.8" height="1.8" fill="#111"/>
<path d="M398.99,521.09 L398.99,521.12 L398.99,521.16 L398.99,521.19 L399.00,521.23 L399.00,521.27 L399.00,521.30 L399.00,521.34 L399.01,521.37 L399.01,521.41 L399.01,521.45 L399.01,521.48 L399.01,521.52 L399.02,521.55 L399.02,521.59 L399.02,521.63 L399.03,521.66 L399.03,521.70 L399.03,521.73 L399.03,521.77 L399.04,521.81 L399.04,521.84 L399.04,521.88 L399.05,521.91 L399.05,521.95 L399.05,521.99 L399.05,522.02 L399.06,522.06 L399.06,522.09 L399.07,522.13 L399.07,522.17 L399.07,522.20 L399.08,522.24 L399.08,522.27 L399.08,522.31 L399.09,522.35 L399.09,522.38 L399.10,522.42 L399.10,522.45 L399.10,522.49 L399.11,522.53 L399.11,522.56 L399.12,522.60 L399.12,522.63 L399.13,522.67 L399.13,522.70 L399.14,522.74 L399.14,522.78 L399.15,522.81 L399.15,522.85 L399.16,522.88 L399.16,522.92 L399.17,522.96 L399.18,522.99 L399.18,523.03 L399.19,523.06 L399.19,523.10 L399.20,523.14 L399.21,523.17 L399.21,523.21 L399.22,523.24 L399.23,523.28 L399.23,523.32 L399.24,523.35 L399.25,523.39 L399.26,523.42 L399.26,523.46 L399.27,523.50 L399.28,523.53 L399.29,523.57 L399.30,523.60 L399.31,523.64 L399.31,523.68 L399.32,523.71 L399.33,523.75 L399.34,523.78 L399.35,523.82 L399.36,523.86 L399.37,523.89 L399.38,523.93 L399.39,523.96 L399.40,524.00 L399.41,524.04 L399.42,524.07 L399.43,524.11 L399.45,524.14 L399.46,524.18 L399.47,524.21 L399.48,524.25 L399.50,524.29 L399.51,524.32 L399.52,524.36 L399.53,524.39 L399.55,524.43 L399.56,524.47 L399.58,524.50 L399.59,524.54 L399.61,524.57 L399.62,524.61 L399.64,524.65 L399.65,524.68 L399.67,524.72 L399.69,524.75 L399.70,524.79 L399.72,524.83 L399.74,524.86 L399.76,524.90 L399.77,524.93 L399.79,524.97 L399.81,525.01 L399.83,525.04 L399.85,525.08 L399.87,525.11 L399.89,525.15 L399.92,525.19 L399.94,525.22 L399.96,525.26 L399.98,525.29 L400.01,525.33 L400.03,525.37 L400.05,525.40 L400.08,525.44 L400.10,525.47 L400.13,525.51 L400.16,525.55 L400.18,525.58 L400.21,525.62 L400.24,525.65 L400.27,525.69 L400.30,525.73 L400.33,525.76 L400.36,525.80 L400.39,525.83 L400.42,525.87 L400.46,525.90 L400.49,525.94 L400.52,525.98 L400.56,526.01 L400.60,526.05 L400.63,526.08 L400.67,526.12 L400.71,526.16 L400.75,526.19 L400.79,526.23 L400.83,526.26 L400.87,526.30 L400.91,526.34 L400.96,526.37 L401.00,526.41 L401.04,526.44 L401.09,526.48 L401.14,526.52 L401.19,526.55 L401.24,526.59 L401.29,526.62 L401.34,526.66 L401.39,526.70 L401.44,526.73 L401.50,526.77 L401.56,526.80 L401.61,526.84 L401.67,526.88 L401.73,526.91 L401.79,526.95 L401.86,526.98 L401.92,527.02 L401.98,527.06 L402.05,527.09 L402.12,527.13 L402.19,527.16 L402.26,527.20 L402.33,527.24 L402.41,527.27 L402.48,527.31 L402.56,527.34 L402.64,527.38 L402.72,527.41 L402.80,527.45 L402.89,527.49 L402.97,527.52 L403.06,527.56 L403.15,527.59 L403.24,527.63 L403.33,527.67 L403.43,527.70 L403.53,527.74 L403.63,527.77 L403.73,527.81 L403.83,527.85 L403.94,527.88 L404.05,527.92 L404.16,527.95 L404.27,527.99 L404.39,528.03 L404.51,528.06 L404.63,528.10 L404.75,528.13 L404.88,528.17 L405.01,528.21 L405.14,528.24 L405.28,528.28 L405.41,528.31 L405.56,528.35 L405.70,528.39 L405.85,528.42 L406.00,528.46 L406.15,528.49 L406.31,528.53 L406.47,528.57 L406.63,528.60 L406.80,528.64 L406.97,528.67 L407.14,528.71 L407.32,528.75 L407.50,528.78 L407.69,528.82 L407.88,528.85 L408.07,528.89 L408.27,528.92 L408.47,528.96 L408.68,529.00 L408.89,529.03 L409.10,529.07 L409.32,529.10 L409.55,529.14 L409.78,529.18 L410.01,529.21 L410.25,529.25 L410.50,529.28 L410.75,529.32 L411.00,529.36 L411.27,529.39 L411.53,529.43 L411.81,529.46 L412.08,529.50 L412.37,529.54 L412.66,529.57 L412.96,529.61 L413.26,529.64 L413.57,529.68 L413.89,529.72 L414.21,529.75 L414.54,529.79 L414.88,529.82 L415.23,529.86 L415.58,529.90 L415.94,529.93 L416.31,529.97 L416.68,530.00 L417.07,530.04 L417.46,530.08 L417.86,530.11 L418.27,530.15 L418.69,530.18 L419.11,530.22 L419.55,530.26 L420.00,530.29 L420.45,530.33 L420.92,530.36 L421.39,530.40 L421.88,530.43 L422.37,530.47 L422.88,530.51 L423.40,530.54 L423.93,530.58 L424.47,530.61 L425.02,530.65 L425.58,530.69 L426.16,530.72 L426.75,530.76 L427.35,530.79 L427.97,530.83 L428.59,530.87 L429.23,530.90 L429.89,530.94 L430.56,530.97 L431.24,531.01 L431.94,531.05 L432.65,531.08 L433.38,531.12 L434.13,531.15 L434.89,531.19 L435.67,531.23 L436.46,531.26 L437.27,531.30 L438.10,531.33 L438.95,531.37 L439.81,531.41 L440.69,531.44 L441.60,531.48 L442.52,531.51 L443.46,531.55 L444.42,531.59 L445.41,531.62 L446.41,531.66 L447.44,531.69 L448.48,531.73 L449.55,531.77 L450.65,531.80 L451.77,531.84 L452.91,531.87 L454.07,531.91 L455.27,531.95 L456.48,531.98 L457.73,532.02 L459.00,532.05 L460.29,532.09 L461.62,532.12 L462.97,532.16 L464.36,532.20 L465.77,532.23 L467.22,532.27 L468.69,532.30 L470.20,532.34 L471.74,532.38 L473.31,532.41 L474.92,532.45 L476.56,532.48 L478.24,532.52 L479.95,532.56 L481.70,532.59 L483.49,532.63 L485.31,532.66 L487.18,532.70 L489.09,532.74 L491.03,532.77 L493.02,532.81 L495.06,532.84 L497.13,532.88 L499.25,532.92 L501.42,532.95 L503.63,532.99 L505.90,533.02 L508.21,533.06 L510.57,533.10 L512.98,533.13 L515.44,533.17 L517.96,533.20 L520.53,533.24 L523.16,533.28 L525.84,533.31 L528.58,533.35 L531.38,533.38 L534.24,533.42 L537.16,533.46 L540.15,533.49 L543.20,533.53 L546.32,533.56 L549.50,533.60 L552.75,533.63 L556.07,533.67 L559.47,533.71 L562.94,533.74 L566.48,533.78 L570.10,533.81 L573.79,533.85 L577.57,533.89 L581.43,533.92 L585.37,533.96 L589.40,533.99 L593.51,534.03 L597.71,534.07 L602.01,534.10 L606.39,534.14 L610.87,534.17 L615.45,534.21 L620.13,534.25 L624.90,534.28 L629.78,534.32 L634.77,534.35 L639.86,534.39 L645.07,534.43 L650.38,534.46 L655.81,534.50 L661.36,534.53 L665.60,534.56" fill="none" stroke="#111" stroke-width="1.8" stroke-dasharray="6.2 6.3" stroke-dashoffset="1.0"/>
</g>
<circle cx="432.4" cy="532.75" r="4.2" fill="none" stroke="#111" stroke-width="1.4"/>
<circle cx="476.8" cy="531.05" r="4.2" fill="none" stroke="#111" stroke-width="1.4"/>
<circle cx="521.6" cy="530.75" r="4.2" fill="none" stroke="#111" stroke-width="1.4"/>
<circle cx="566.0" cy="534.7" r="4.2" fill="none" stroke="#111" stroke-width="1.4"/>
<circle cx="610.5" cy="532.05" r="4.2" fill="none" stroke="#111" stroke-width="1.4"/>
<circle cx="654.9" cy="534.45" r="4.2" fill="none" stroke="#111" stroke-width="1.4"/>
<circle cx="432.4" cy="531.25" r="4.85" fill="#1a1a1a"/>
<circle cx="476.8" cy="532.75" r="4.85" fill="#1a1a1a"/>
<circle cx="521.6" cy="531.75" r="4.85" fill="#1a1a1a"/>
<circle cx="566.0" cy="534.7" r="4.85" fill="#1a1a1a"/>
<circle cx="610.5" cy="534.35" r="4.85" fill="#1a1a1a"/>
<circle cx="654.9" cy="534.45" r="4.85" fill="#1a1a1a"/>
<text transform="translate(532.75,471.00) scale(1.0940,1.04)" font-size="15" stroke="#1a1a1a" stroke-width="0.22">Porosity</text>
<text transform="translate(593.38,471.00) scale(1.4003,1.0)" font-size="15" stroke="#1a1a1a" stroke-width="0.22">:</text>
<text transform="translate(605.27,471.00) scale(1.1086,1.06)" font-size="15" stroke="#1a1a1a" stroke-width="0.22">30.3</text>
<text transform="translate(638.05,471.00) scale(1.2227,1.03)" font-size="15" stroke="#1a1a1a" stroke-width="0.22">%</text>
<text transform="translate(407.18,467.60) scale(0.9787,1.0)" font-size="15.8" stroke="#1a1a1a" stroke-width="0.22">f</text>
<text transform="translate(413.02,467.60) scale(0.9071,1.0)" font-size="15.8" stroke="#1a1a1a" stroke-width="0.22">)</text>
<text transform="translate(393.76,674.60) scale(1,1.041)" font-size="18.5" stroke="#1a1a1a" stroke-width="0.18" >0</text>
<text transform="translate(477.51,674.60) scale(1,1.041)" font-size="18.5" stroke="#1a1a1a" stroke-width="0.18" > 0</text><path transform="translate(477.51,674.60) scale(0.00903,-0.00903)" d="M763 0L583 0L583 1147C540 1106 483 1065 412 1023C341 981 278 950 222 930L222 1104C323 1151 411 1208 486 1276C561 1343 614 1408 646 1466L763 1466Z" stroke="#1a1a1a" stroke-width="0.18" vector-effect="non-scaling-stroke"/>
<text transform="translate(566.41,674.60) scale(1,1.041)" font-size="18.5" stroke="#1a1a1a" stroke-width="0.18" >20</text>
<text transform="translate(655.31,674.60) scale(1,1.041)" font-size="18.5" stroke="#1a1a1a" stroke-width="0.18" >30</text>
<circle cx="565.7" cy="617.0" r="4.2" fill="none" stroke="#111" stroke-width="1.4"/>
<circle cx="565.7" cy="632.5" r="4.45" fill="#1a1a1a"/>
<text transform="translate(579.22,621.80) scale(1.1227,1.04)" font-size="15" stroke="#1a1a1a" stroke-width="0.22">Fractured</text>
<text transform="translate(586.05,637.30) scale(1.1587,1.04)" font-size="15" stroke="#1a1a1a" stroke-width="0.22">ntact</text>
<path d="M580.2 627.1H584.6M580.2 636.6H584.6M582.4 627.1V636.6" stroke="#1a1a1a" stroke-width="1.5" fill="none"/>
<text transform="translate(245.12,697.6) scale(1,1.041)" font-size="19.2" textLength="219.57" lengthAdjust="spacing">Effective Pressure (MPa)</text>
<g transform="rotate(-90)">
<text transform="translate(-412.18,19.7) scale(1,1.041)" font-size="19.2" textLength="134.44" lengthAdjust="spacing">Permeability (m</text>
<text transform="translate(-278.55,10.70) scale(1.0294,1.041)" font-size="14.5" >2</text>
<text transform="translate(-270.11,19.7) scale(1,1.041)" font-size="19.2">)</text>
</g>
</svg>
</body></html>
